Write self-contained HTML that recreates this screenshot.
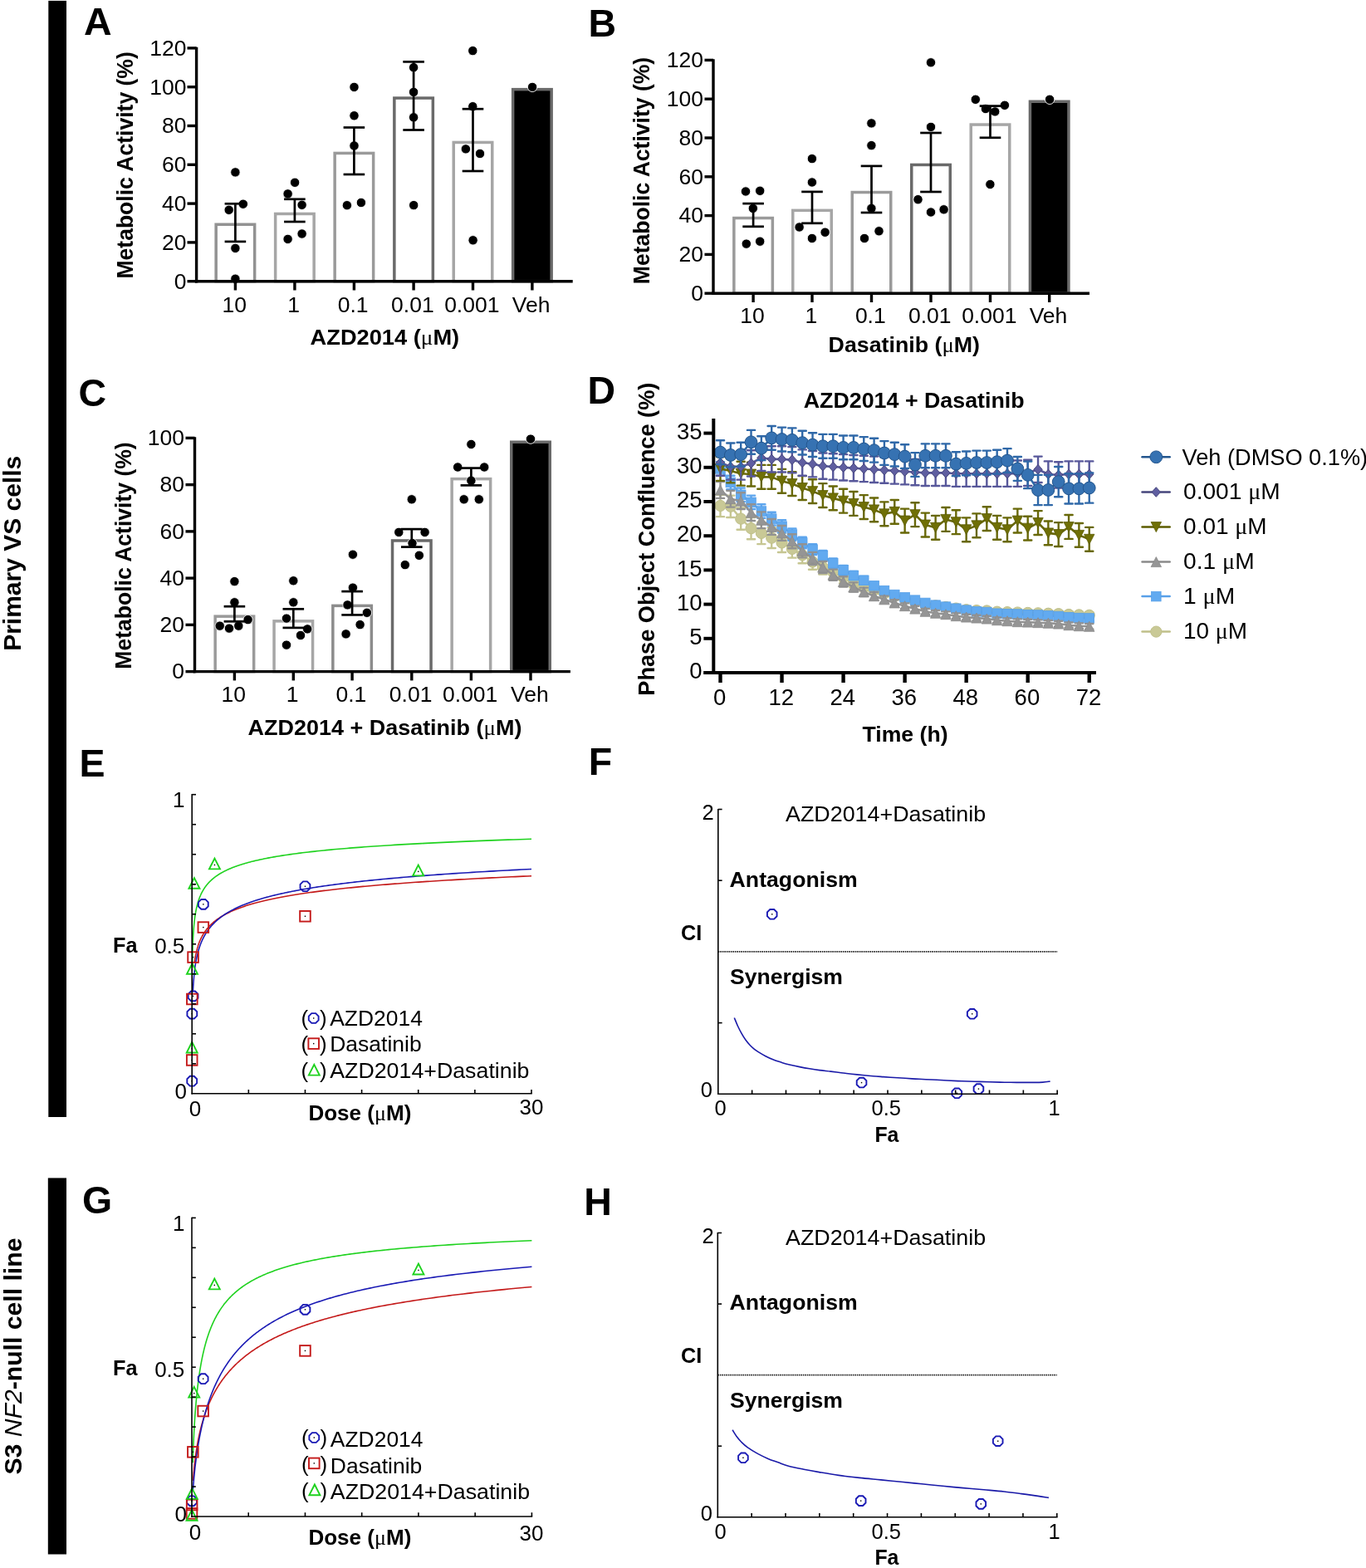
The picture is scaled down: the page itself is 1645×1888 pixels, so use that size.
<!DOCTYPE html>
<html><head><meta charset="utf-8"><title>Figure</title>
<style>html,body{margin:0;padding:0;background:#fff;}svg{display:block;}</style>
</head><body>
<svg width="1645" height="1888" viewBox="0 0 1645 1888" font-family="'Liberation Sans', Arial, Helvetica, sans-serif">
<rect x="0" y="0" width="1645" height="1888" fill="#fff"/>
<rect x="58.3" y="0.9" width="21.7" height="1344.1" fill="#000"/>
<rect x="57.8" y="1418.4" width="22.2" height="453.1" fill="#000"/>
<text transform="translate(25 666.3) rotate(-90)" text-anchor="middle" font-size="30" font-weight="bold" textLength="235" lengthAdjust="spacingAndGlyphs">Primary VS cells</text>
<text transform="translate(26.3 1633.1) rotate(-90)" text-anchor="middle" font-size="30" font-weight="bold" textLength="285" lengthAdjust="spacingAndGlyphs">S3 <tspan font-style="italic" font-weight="normal">NF2</tspan>-null cell line</text>
<text x="101" y="41.9" font-size="46.5" font-weight="bold">A</text>
<text x="708.6" y="43.8" font-size="46.5" font-weight="bold">B</text>
<text x="94.5" y="489.2" font-size="46.5" font-weight="bold">C</text>
<text x="707.6" y="485.9" font-size="46.5" font-weight="bold">D</text>
<text x="95.5" y="934.6" font-size="46.5" font-weight="bold">E</text>
<text x="708.7" y="932.7" font-size="46.5" font-weight="bold">F</text>
<text x="99" y="1461.2" font-size="46.5" font-weight="bold">G</text>
<text x="703.2" y="1462.5" font-size="46.5" font-weight="bold">H</text>
<rect x="260.15" y="270.25" width="46.5" height="68.45" fill="#fff" stroke="#929292" stroke-width="3.5"/>
<rect x="331.65" y="257.45" width="46.5" height="81.25" fill="#fff" stroke="#a6a6a6" stroke-width="3.5"/>
<rect x="403.15" y="184.45" width="46.5" height="154.25" fill="#fff" stroke="#9a9a9a" stroke-width="3.5"/>
<rect x="474.85" y="118.05" width="46.5" height="220.65" fill="#fff" stroke="#6a6a6a" stroke-width="3.5"/>
<rect x="546.25" y="171.45" width="46.5" height="167.25" fill="#fff" stroke="#a6a6a6" stroke-width="3.5"/>
<rect x="617.65" y="107.65" width="46.5" height="231.05" fill="#000" stroke="#6a6a6a" stroke-width="3.5"/>
<circle cx="283.4" cy="207.4" r="5.7" fill="#000" stroke="#fff" stroke-width="0.9"/>
<circle cx="292.8" cy="245.7" r="5.7" fill="#000" stroke="#fff" stroke-width="0.9"/>
<circle cx="275.7" cy="252.8" r="5.7" fill="#000" stroke="#fff" stroke-width="0.9"/>
<circle cx="283.4" cy="298.9" r="5.7" fill="#000" stroke="#fff" stroke-width="0.9"/>
<circle cx="283.4" cy="335.7" r="5.7" fill="#000" stroke="#fff" stroke-width="0.9"/>
<circle cx="355.1" cy="219.8" r="5.7" fill="#000" stroke="#fff" stroke-width="0.9"/>
<circle cx="346.6" cy="233.4" r="5.7" fill="#000" stroke="#fff" stroke-width="0.9"/>
<circle cx="363.6" cy="246.8" r="5.7" fill="#000" stroke="#fff" stroke-width="0.9"/>
<circle cx="363.6" cy="281.5" r="5.7" fill="#000" stroke="#fff" stroke-width="0.9"/>
<circle cx="346.6" cy="287.9" r="5.7" fill="#000" stroke="#fff" stroke-width="0.9"/>
<circle cx="426.5" cy="104.9" r="5.7" fill="#000" stroke="#fff" stroke-width="0.9"/>
<circle cx="426.5" cy="139.3" r="5.7" fill="#000" stroke="#fff" stroke-width="0.9"/>
<circle cx="426.5" cy="175.5" r="5.7" fill="#000" stroke="#fff" stroke-width="0.9"/>
<circle cx="417.9" cy="247.2" r="5.7" fill="#000" stroke="#fff" stroke-width="0.9"/>
<circle cx="434.9" cy="244" r="5.7" fill="#000" stroke="#fff" stroke-width="0.9"/>
<circle cx="498.1" cy="81.2" r="5.7" fill="#000" stroke="#fff" stroke-width="0.9"/>
<circle cx="498.1" cy="110.9" r="5.7" fill="#000" stroke="#fff" stroke-width="0.9"/>
<circle cx="498.1" cy="141.3" r="5.7" fill="#000" stroke="#fff" stroke-width="0.9"/>
<circle cx="498.2" cy="247.1" r="5.7" fill="#000" stroke="#fff" stroke-width="0.9"/>
<circle cx="569.3" cy="61.1" r="5.7" fill="#000" stroke="#fff" stroke-width="0.9"/>
<circle cx="569.3" cy="128.2" r="5.7" fill="#000" stroke="#fff" stroke-width="0.9"/>
<circle cx="560.9" cy="179.4" r="5.7" fill="#000" stroke="#fff" stroke-width="0.9"/>
<circle cx="578" cy="185" r="5.7" fill="#000" stroke="#fff" stroke-width="0.9"/>
<circle cx="569.6" cy="289.3" r="5.7" fill="#000" stroke="#fff" stroke-width="0.9"/>
<circle cx="641.1" cy="104.9" r="5.7" fill="#000" stroke="#fff" stroke-width="0.9"/>
<line x1="283.4" y1="245.3" x2="283.4" y2="290.9" stroke="#000" stroke-width="2.7"/>
<line x1="270.6" y1="245.3" x2="296.2" y2="245.3" stroke="#000" stroke-width="2.7"/>
<line x1="270.6" y1="290.9" x2="296.2" y2="290.9" stroke="#000" stroke-width="2.7"/>
<line x1="354.9" y1="239.8" x2="354.9" y2="267" stroke="#000" stroke-width="2.7"/>
<line x1="342.1" y1="239.8" x2="367.7" y2="239.8" stroke="#000" stroke-width="2.7"/>
<line x1="342.1" y1="267" x2="367.7" y2="267" stroke="#000" stroke-width="2.7"/>
<line x1="426.4" y1="153.5" x2="426.4" y2="210" stroke="#000" stroke-width="2.7"/>
<line x1="413.6" y1="153.5" x2="439.2" y2="153.5" stroke="#000" stroke-width="2.7"/>
<line x1="413.6" y1="210" x2="439.2" y2="210" stroke="#000" stroke-width="2.7"/>
<line x1="498.1" y1="74.4" x2="498.1" y2="156.5" stroke="#000" stroke-width="2.7"/>
<line x1="485.3" y1="74.4" x2="510.9" y2="74.4" stroke="#000" stroke-width="2.7"/>
<line x1="485.3" y1="156.5" x2="510.9" y2="156.5" stroke="#000" stroke-width="2.7"/>
<line x1="569.5" y1="131.2" x2="569.5" y2="206" stroke="#000" stroke-width="2.7"/>
<line x1="556.7" y1="131.2" x2="582.3" y2="131.2" stroke="#000" stroke-width="2.7"/>
<line x1="556.7" y1="206" x2="582.3" y2="206" stroke="#000" stroke-width="2.7"/>
<line x1="236.6" y1="340.4" x2="236.6" y2="56.7" stroke="#000" stroke-width="3.4" stroke-linecap="butt"/>
<line x1="234.9" y1="338.7" x2="689.7" y2="338.7" stroke="#000" stroke-width="3.4"/>
<line x1="225.5" y1="338.7" x2="236.6" y2="338.7" stroke="#000" stroke-width="3.4"/>
<text x="224.5" y="347.5" font-size="26.5" text-anchor="end">0</text>
<line x1="225.5" y1="291.9" x2="236.6" y2="291.9" stroke="#000" stroke-width="3.4"/>
<text x="224.5" y="300.7" font-size="26.5" text-anchor="end">20</text>
<line x1="225.5" y1="245.1" x2="236.6" y2="245.1" stroke="#000" stroke-width="3.4"/>
<text x="224.5" y="253.9" font-size="26.5" text-anchor="end">40</text>
<line x1="225.5" y1="198.3" x2="236.6" y2="198.3" stroke="#000" stroke-width="3.4"/>
<text x="224.5" y="207.1" font-size="26.5" text-anchor="end">60</text>
<line x1="225.5" y1="151.5" x2="236.6" y2="151.5" stroke="#000" stroke-width="3.4"/>
<text x="224.5" y="160.3" font-size="26.5" text-anchor="end">80</text>
<line x1="225.5" y1="104.7" x2="236.6" y2="104.7" stroke="#000" stroke-width="3.4"/>
<text x="224.5" y="113.5" font-size="26.5" text-anchor="end">100</text>
<line x1="225.5" y1="57.9" x2="236.6" y2="57.9" stroke="#000" stroke-width="3.4"/>
<text x="224.5" y="66.7" font-size="26.5" text-anchor="end">120</text>
<line x1="283.4" y1="338.7" x2="283.4" y2="349.5" stroke="#000" stroke-width="3.4"/>
<text x="282.2" y="375.5" font-size="26.5" text-anchor="middle">10</text>
<line x1="354.9" y1="338.7" x2="354.9" y2="349.5" stroke="#000" stroke-width="3.4"/>
<text x="353.7" y="375.5" font-size="26.5" text-anchor="middle">1</text>
<line x1="426.4" y1="338.7" x2="426.4" y2="349.5" stroke="#000" stroke-width="3.4"/>
<text x="425.2" y="375.5" font-size="26.5" text-anchor="middle">0.1</text>
<line x1="498.1" y1="338.7" x2="498.1" y2="349.5" stroke="#000" stroke-width="3.4"/>
<text x="496.9" y="375.5" font-size="26.5" text-anchor="middle">0.01</text>
<line x1="569.5" y1="338.7" x2="569.5" y2="349.5" stroke="#000" stroke-width="3.4"/>
<text x="568.3" y="375.5" font-size="26.5" text-anchor="middle">0.001</text>
<line x1="640.9" y1="338.7" x2="640.9" y2="349.5" stroke="#000" stroke-width="3.4"/>
<text x="639.7" y="375.5" font-size="26.5" text-anchor="middle">Veh</text>
<text x="463.4" y="414.5" font-size="26" text-anchor="middle" font-weight="bold" textLength="179.6" lengthAdjust="spacingAndGlyphs">AZD2014 (<tspan font-weight="normal" font-family="'Liberation Serif', serif">μ</tspan>M)</text>
<text transform="translate(159.7 198.9) rotate(-90)" text-anchor="middle" font-size="27" font-weight="bold" textLength="273.4" lengthAdjust="spacingAndGlyphs">Metabolic Activity (%)</text>
<rect x="883.85" y="262.55" width="46.5" height="90.65" fill="#fff" stroke="#9a9a9a" stroke-width="3.5"/>
<rect x="954.75" y="253.35" width="46.5" height="99.85" fill="#fff" stroke="#a6a6a6" stroke-width="3.5"/>
<rect x="1026.25" y="231.55" width="46.5" height="121.65" fill="#fff" stroke="#9a9a9a" stroke-width="3.5"/>
<rect x="1097.75" y="198.45" width="46.5" height="154.75" fill="#fff" stroke="#6a6a6a" stroke-width="3.5"/>
<rect x="1169.25" y="150.05" width="46.5" height="203.15" fill="#fff" stroke="#a6a6a6" stroke-width="3.5"/>
<rect x="1240.45" y="122.25" width="46.5" height="230.95" fill="#000" stroke="#6a6a6a" stroke-width="3.5"/>
<circle cx="898" cy="230.5" r="5.7" fill="#000" stroke="#fff" stroke-width="0.9"/>
<circle cx="915.2" cy="229.8" r="5.7" fill="#000" stroke="#fff" stroke-width="0.9"/>
<circle cx="906.8" cy="250.9" r="5.7" fill="#000" stroke="#fff" stroke-width="0.9"/>
<circle cx="898.8" cy="293.6" r="5.7" fill="#000" stroke="#fff" stroke-width="0.9"/>
<circle cx="915.2" cy="290.7" r="5.7" fill="#000" stroke="#fff" stroke-width="0.9"/>
<circle cx="977.9" cy="191.1" r="5.7" fill="#000" stroke="#fff" stroke-width="0.9"/>
<circle cx="977.9" cy="219.5" r="5.7" fill="#000" stroke="#fff" stroke-width="0.9"/>
<circle cx="962.6" cy="273.5" r="5.7" fill="#000" stroke="#fff" stroke-width="0.9"/>
<circle cx="977.9" cy="287" r="5.7" fill="#000" stroke="#fff" stroke-width="0.9"/>
<circle cx="993.6" cy="279.7" r="5.7" fill="#000" stroke="#fff" stroke-width="0.9"/>
<circle cx="1049.4" cy="148.4" r="5.7" fill="#000" stroke="#fff" stroke-width="0.9"/>
<circle cx="1049.4" cy="175.1" r="5.7" fill="#000" stroke="#fff" stroke-width="0.9"/>
<circle cx="1049.4" cy="250.9" r="5.7" fill="#000" stroke="#fff" stroke-width="0.9"/>
<circle cx="1041" cy="287" r="5.7" fill="#000" stroke="#fff" stroke-width="0.9"/>
<circle cx="1058.5" cy="278.3" r="5.7" fill="#000" stroke="#fff" stroke-width="0.9"/>
<circle cx="1121" cy="75.3" r="5.7" fill="#000" stroke="#fff" stroke-width="0.9"/>
<circle cx="1121" cy="152.9" r="5.7" fill="#000" stroke="#fff" stroke-width="0.9"/>
<circle cx="1105.5" cy="240.2" r="5.7" fill="#000" stroke="#fff" stroke-width="0.9"/>
<circle cx="1121" cy="255.5" r="5.7" fill="#000" stroke="#fff" stroke-width="0.9"/>
<circle cx="1136.6" cy="252.3" r="5.7" fill="#000" stroke="#fff" stroke-width="0.9"/>
<circle cx="1174.8" cy="119.8" r="5.7" fill="#000" stroke="#fff" stroke-width="0.9"/>
<circle cx="1186.9" cy="131" r="5.7" fill="#000" stroke="#fff" stroke-width="0.9"/>
<circle cx="1198.2" cy="134.4" r="5.7" fill="#000" stroke="#fff" stroke-width="0.9"/>
<circle cx="1209.9" cy="126.8" r="5.7" fill="#000" stroke="#fff" stroke-width="0.9"/>
<circle cx="1192.4" cy="222" r="5.7" fill="#000" stroke="#fff" stroke-width="0.9"/>
<circle cx="1264.1" cy="119.8" r="5.7" fill="#000" stroke="#fff" stroke-width="0.9"/>
<line x1="907.1" y1="245.1" x2="907.1" y2="272.8" stroke="#000" stroke-width="2.7"/>
<line x1="894.3" y1="245.1" x2="919.9" y2="245.1" stroke="#000" stroke-width="2.7"/>
<line x1="894.3" y1="272.8" x2="919.9" y2="272.8" stroke="#000" stroke-width="2.7"/>
<line x1="978" y1="230.9" x2="978" y2="268.8" stroke="#000" stroke-width="2.7"/>
<line x1="965.2" y1="230.9" x2="990.8" y2="230.9" stroke="#000" stroke-width="2.7"/>
<line x1="965.2" y1="268.8" x2="990.8" y2="268.8" stroke="#000" stroke-width="2.7"/>
<line x1="1049.5" y1="199.9" x2="1049.5" y2="256" stroke="#000" stroke-width="2.7"/>
<line x1="1036.7" y1="199.9" x2="1062.3" y2="199.9" stroke="#000" stroke-width="2.7"/>
<line x1="1036.7" y1="256" x2="1062.3" y2="256" stroke="#000" stroke-width="2.7"/>
<line x1="1121" y1="160" x2="1121" y2="231" stroke="#000" stroke-width="2.7"/>
<line x1="1108.2" y1="160" x2="1133.8" y2="160" stroke="#000" stroke-width="2.7"/>
<line x1="1108.2" y1="231" x2="1133.8" y2="231" stroke="#000" stroke-width="2.7"/>
<line x1="1192.5" y1="127.6" x2="1192.5" y2="165.8" stroke="#000" stroke-width="2.7"/>
<line x1="1179.7" y1="127.6" x2="1205.3" y2="127.6" stroke="#000" stroke-width="2.7"/>
<line x1="1179.7" y1="165.8" x2="1205.3" y2="165.8" stroke="#000" stroke-width="2.7"/>
<line x1="859" y1="354.9" x2="859" y2="71.2" stroke="#000" stroke-width="3.4" stroke-linecap="butt"/>
<line x1="857.3" y1="353.2" x2="1312" y2="353.2" stroke="#000" stroke-width="3.4"/>
<line x1="848.5" y1="353.2" x2="859" y2="353.2" stroke="#000" stroke-width="3.4"/>
<text x="847" y="362" font-size="26.5" text-anchor="end">0</text>
<line x1="848.5" y1="306.4" x2="859" y2="306.4" stroke="#000" stroke-width="3.4"/>
<text x="847" y="315.2" font-size="26.5" text-anchor="end">20</text>
<line x1="848.5" y1="259.6" x2="859" y2="259.6" stroke="#000" stroke-width="3.4"/>
<text x="847" y="268.4" font-size="26.5" text-anchor="end">40</text>
<line x1="848.5" y1="212.8" x2="859" y2="212.8" stroke="#000" stroke-width="3.4"/>
<text x="847" y="221.6" font-size="26.5" text-anchor="end">60</text>
<line x1="848.5" y1="166" x2="859" y2="166" stroke="#000" stroke-width="3.4"/>
<text x="847" y="174.8" font-size="26.5" text-anchor="end">80</text>
<line x1="848.5" y1="119.2" x2="859" y2="119.2" stroke="#000" stroke-width="3.4"/>
<text x="847" y="128" font-size="26.5" text-anchor="end">100</text>
<line x1="848.5" y1="72.4" x2="859" y2="72.4" stroke="#000" stroke-width="3.4"/>
<text x="847" y="81.2" font-size="26.5" text-anchor="end">120</text>
<line x1="907.1" y1="353.2" x2="907.1" y2="364" stroke="#000" stroke-width="3.4"/>
<text x="905.9" y="389.4" font-size="26.5" text-anchor="middle">10</text>
<line x1="978" y1="353.2" x2="978" y2="364" stroke="#000" stroke-width="3.4"/>
<text x="976.8" y="389.4" font-size="26.5" text-anchor="middle">1</text>
<line x1="1049.5" y1="353.2" x2="1049.5" y2="364" stroke="#000" stroke-width="3.4"/>
<text x="1048.3" y="389.4" font-size="26.5" text-anchor="middle">0.1</text>
<line x1="1121" y1="353.2" x2="1121" y2="364" stroke="#000" stroke-width="3.4"/>
<text x="1119.8" y="389.4" font-size="26.5" text-anchor="middle">0.01</text>
<line x1="1192.5" y1="353.2" x2="1192.5" y2="364" stroke="#000" stroke-width="3.4"/>
<text x="1191.3" y="389.4" font-size="26.5" text-anchor="middle">0.001</text>
<line x1="1263.7" y1="353.2" x2="1263.7" y2="364" stroke="#000" stroke-width="3.4"/>
<text x="1262.5" y="389.4" font-size="26.5" text-anchor="middle">Veh</text>
<text x="1088.8" y="424.4" font-size="26" text-anchor="middle" font-weight="bold" textLength="182.4" lengthAdjust="spacingAndGlyphs">Dasatinib (<tspan font-weight="normal" font-family="'Liberation Serif', serif">μ</tspan>M)</text>
<text transform="translate(782.4 205.5) rotate(-90)" text-anchor="middle" font-size="27" font-weight="bold" textLength="273.4" lengthAdjust="spacingAndGlyphs">Metabolic Activity (%)</text>
<rect x="259.15" y="742.15" width="46.5" height="66.45" fill="#fff" stroke="#9a9a9a" stroke-width="3.5"/>
<rect x="330.05" y="747.85" width="46.5" height="60.75" fill="#fff" stroke="#a6a6a6" stroke-width="3.5"/>
<rect x="400.85" y="729.35" width="46.5" height="79.25" fill="#fff" stroke="#8c8c8c" stroke-width="3.5"/>
<rect x="472.55" y="650.95" width="46.5" height="157.65" fill="#fff" stroke="#6a6a6a" stroke-width="3.5"/>
<rect x="544.15" y="576.65" width="46.5" height="231.95" fill="#fff" stroke="#a6a6a6" stroke-width="3.5"/>
<rect x="615.75" y="532.25" width="46.5" height="276.35" fill="#000" stroke="#6a6a6a" stroke-width="3.5"/>
<circle cx="282.4" cy="700.1" r="5.7" fill="#000" stroke="#fff" stroke-width="0.9"/>
<circle cx="282.4" cy="725.3" r="5.7" fill="#000" stroke="#fff" stroke-width="0.9"/>
<circle cx="264.7" cy="753.6" r="5.7" fill="#000" stroke="#fff" stroke-width="0.9"/>
<circle cx="276" cy="756.6" r="5.7" fill="#000" stroke="#fff" stroke-width="0.9"/>
<circle cx="287.3" cy="753.6" r="5.7" fill="#000" stroke="#fff" stroke-width="0.9"/>
<circle cx="298.6" cy="746.1" r="5.7" fill="#000" stroke="#fff" stroke-width="0.9"/>
<circle cx="353.3" cy="699.3" r="5.7" fill="#000" stroke="#fff" stroke-width="0.9"/>
<circle cx="353.3" cy="725.3" r="5.7" fill="#000" stroke="#fff" stroke-width="0.9"/>
<circle cx="345" cy="744.6" r="5.7" fill="#000" stroke="#fff" stroke-width="0.9"/>
<circle cx="370.2" cy="757.4" r="5.7" fill="#000" stroke="#fff" stroke-width="0.9"/>
<circle cx="362" cy="765" r="5.7" fill="#000" stroke="#fff" stroke-width="0.9"/>
<circle cx="345" cy="776.6" r="5.7" fill="#000" stroke="#fff" stroke-width="0.9"/>
<circle cx="424.9" cy="667.7" r="5.7" fill="#000" stroke="#fff" stroke-width="0.9"/>
<circle cx="424.9" cy="707.6" r="5.7" fill="#000" stroke="#fff" stroke-width="0.9"/>
<circle cx="418.5" cy="728.4" r="5.7" fill="#000" stroke="#fff" stroke-width="0.9"/>
<circle cx="441.9" cy="737.8" r="5.7" fill="#000" stroke="#fff" stroke-width="0.9"/>
<circle cx="433.6" cy="752.1" r="5.7" fill="#000" stroke="#fff" stroke-width="0.9"/>
<circle cx="416.6" cy="763.4" r="5.7" fill="#000" stroke="#fff" stroke-width="0.9"/>
<circle cx="495.8" cy="601.3" r="5.7" fill="#000" stroke="#fff" stroke-width="0.9"/>
<circle cx="480.3" cy="640.9" r="5.7" fill="#000" stroke="#fff" stroke-width="0.9"/>
<circle cx="511.6" cy="640.9" r="5.7" fill="#000" stroke="#fff" stroke-width="0.9"/>
<circle cx="496.5" cy="654.1" r="5.7" fill="#000" stroke="#fff" stroke-width="0.9"/>
<circle cx="504.8" cy="668.8" r="5.7" fill="#000" stroke="#fff" stroke-width="0.9"/>
<circle cx="487.8" cy="680.1" r="5.7" fill="#000" stroke="#fff" stroke-width="0.9"/>
<circle cx="567.4" cy="535" r="5.7" fill="#000" stroke="#fff" stroke-width="0.9"/>
<circle cx="551.2" cy="562.5" r="5.7" fill="#000" stroke="#fff" stroke-width="0.9"/>
<circle cx="583.2" cy="562.5" r="5.7" fill="#000" stroke="#fff" stroke-width="0.9"/>
<circle cx="567.4" cy="578.7" r="5.7" fill="#000" stroke="#fff" stroke-width="0.9"/>
<circle cx="558.7" cy="601.3" r="5.7" fill="#000" stroke="#fff" stroke-width="0.9"/>
<circle cx="576.8" cy="601.3" r="5.7" fill="#000" stroke="#fff" stroke-width="0.9"/>
<circle cx="639" cy="528.6" r="5.7" fill="#000" stroke="#fff" stroke-width="0.9"/>
<line x1="282.4" y1="730.2" x2="282.4" y2="748.3" stroke="#000" stroke-width="2.7"/>
<line x1="269.6" y1="730.2" x2="295.2" y2="730.2" stroke="#000" stroke-width="2.7"/>
<line x1="269.6" y1="748.3" x2="295.2" y2="748.3" stroke="#000" stroke-width="2.7"/>
<line x1="353.3" y1="733.3" x2="353.3" y2="755.9" stroke="#000" stroke-width="2.7"/>
<line x1="340.5" y1="733.3" x2="366.1" y2="733.3" stroke="#000" stroke-width="2.7"/>
<line x1="340.5" y1="755.9" x2="366.1" y2="755.9" stroke="#000" stroke-width="2.7"/>
<line x1="424.1" y1="712.1" x2="424.1" y2="740.4" stroke="#000" stroke-width="2.7"/>
<line x1="411.3" y1="712.1" x2="436.9" y2="712.1" stroke="#000" stroke-width="2.7"/>
<line x1="411.3" y1="740.4" x2="436.9" y2="740.4" stroke="#000" stroke-width="2.7"/>
<line x1="495.8" y1="637.1" x2="495.8" y2="658.6" stroke="#000" stroke-width="2.7"/>
<line x1="483" y1="637.1" x2="508.6" y2="637.1" stroke="#000" stroke-width="2.7"/>
<line x1="483" y1="658.6" x2="508.6" y2="658.6" stroke="#000" stroke-width="2.7"/>
<line x1="567.4" y1="563.6" x2="567.4" y2="584.4" stroke="#000" stroke-width="2.7"/>
<line x1="554.6" y1="563.6" x2="580.2" y2="563.6" stroke="#000" stroke-width="2.7"/>
<line x1="554.6" y1="584.4" x2="580.2" y2="584.4" stroke="#000" stroke-width="2.7"/>
<line x1="234.5" y1="810.3" x2="234.5" y2="526.2" stroke="#000" stroke-width="3.4" stroke-linecap="butt"/>
<line x1="232.8" y1="808.6" x2="686.9" y2="808.6" stroke="#000" stroke-width="3.4"/>
<line x1="223.5" y1="808.6" x2="234.5" y2="808.6" stroke="#000" stroke-width="3.4"/>
<text x="222" y="817.4" font-size="26.5" text-anchor="end">0</text>
<line x1="223.5" y1="752.36" x2="234.5" y2="752.36" stroke="#000" stroke-width="3.4"/>
<text x="222" y="761.16" font-size="26.5" text-anchor="end">20</text>
<line x1="223.5" y1="696.12" x2="234.5" y2="696.12" stroke="#000" stroke-width="3.4"/>
<text x="222" y="704.92" font-size="26.5" text-anchor="end">40</text>
<line x1="223.5" y1="639.88" x2="234.5" y2="639.88" stroke="#000" stroke-width="3.4"/>
<text x="222" y="648.68" font-size="26.5" text-anchor="end">60</text>
<line x1="223.5" y1="583.64" x2="234.5" y2="583.64" stroke="#000" stroke-width="3.4"/>
<text x="222" y="592.44" font-size="26.5" text-anchor="end">80</text>
<line x1="223.5" y1="527.4" x2="234.5" y2="527.4" stroke="#000" stroke-width="3.4"/>
<text x="222" y="536.2" font-size="26.5" text-anchor="end">100</text>
<line x1="282.4" y1="808.6" x2="282.4" y2="819.4" stroke="#000" stroke-width="3.4"/>
<text x="281.2" y="845.2" font-size="26.5" text-anchor="middle">10</text>
<line x1="353.3" y1="808.6" x2="353.3" y2="819.4" stroke="#000" stroke-width="3.4"/>
<text x="352.1" y="845.2" font-size="26.5" text-anchor="middle">1</text>
<line x1="424.1" y1="808.6" x2="424.1" y2="819.4" stroke="#000" stroke-width="3.4"/>
<text x="422.9" y="845.2" font-size="26.5" text-anchor="middle">0.1</text>
<line x1="495.8" y1="808.6" x2="495.8" y2="819.4" stroke="#000" stroke-width="3.4"/>
<text x="494.6" y="845.2" font-size="26.5" text-anchor="middle">0.01</text>
<line x1="567.4" y1="808.6" x2="567.4" y2="819.4" stroke="#000" stroke-width="3.4"/>
<text x="566.2" y="845.2" font-size="26.5" text-anchor="middle">0.001</text>
<line x1="639" y1="808.6" x2="639" y2="819.4" stroke="#000" stroke-width="3.4"/>
<text x="637.8" y="845.2" font-size="26.5" text-anchor="middle">Veh</text>
<text x="463.5" y="884.8" font-size="26" text-anchor="middle" font-weight="bold" textLength="329.8" lengthAdjust="spacingAndGlyphs">AZD2014 + Dasatinib (<tspan font-weight="normal" font-family="'Liberation Serif', serif">μ</tspan>M)</text>
<text transform="translate(157.6 669) rotate(-90)" text-anchor="middle" font-size="27" font-weight="bold" textLength="273.4" lengthAdjust="spacingAndGlyphs">Metabolic Activity (%)</text>
<path d="M867.5 595.76V622.13 M862.9 595.76H872.1 M862.9 622.13H872.1 M879.84 596.58V622.95 M875.24 596.58H884.44 M875.24 622.95H884.44 M892.18 611.42V637.78 M887.58 611.42H896.78 M887.58 637.78H896.78 M904.52 622.95V649.32 M899.92 622.95H909.12 M899.92 649.32H909.12 M916.86 628.72V655.09 M912.26 628.72H921.46 M912.26 655.09H921.46 M929.2 635.28V660.07 M924.6 635.28H933.8 M924.6 660.07H933.8 M941.54 641.84V665.04 M936.94 641.84H946.14 M936.94 665.04H946.14 M953.88 650.04V671.67 M949.28 650.04H958.48 M949.28 671.67H958.48 M966.22 658.25V678.3 M961.62 658.25H970.82 M961.62 678.3H970.82 M978.56 667.28V685.75 M973.96 667.28H983.16 M973.96 685.75H983.16 M990.9 674.66V691.55 M986.3 674.66H995.5 M986.3 691.55H995.5 M1003.24 681.22V696.53 M998.64 681.22H1007.84 M998.64 696.53H1007.84 M1015.58 688.6V702.33 M1010.98 688.6H1020.18 M1010.98 702.33H1020.18 M1027.92 695.15V707.31 M1023.32 695.15H1032.52 M1023.32 707.31H1032.52 M1040.26 700.89V711.46 M1035.66 700.89H1044.86 M1035.66 711.46H1044.86 M1052.6 705.8V714.79 M1048 705.8H1057.2 M1048 714.79H1057.2 M1064.94 710.71V718.12 M1060.34 710.71H1069.54 M1060.34 718.12H1069.54 M1077.28 714V721.42 M1072.68 714H1081.88 M1072.68 721.42H1081.88 M1089.62 717.3V724.72 M1085.02 717.3H1094.22 M1085.02 724.72H1094.22 M1101.96 720.6V728.01 M1097.36 720.6H1106.56 M1097.36 728.01H1106.56 M1114.3 723.89V731.31 M1109.7 723.89H1118.9 M1109.7 731.31H1118.9 M1126.64 725.54V732.96 M1122.04 725.54H1131.24 M1122.04 732.96H1131.24 M1138.98 727.19V734.6 M1134.38 727.19H1143.58 M1134.38 734.6H1143.58 M1151.32 728.84V736.25 M1146.72 728.84H1155.92 M1146.72 736.25H1155.92 M1163.66 730.48V737.9 M1159.06 730.48H1168.26 M1159.06 737.9H1168.26 M1176 731.31V738.72 M1171.4 731.31H1180.6 M1171.4 738.72H1180.6 M1188.34 731.72V739.14 M1183.74 731.72H1192.94 M1183.74 739.14H1192.94 M1200.68 732.96V740.37 M1196.08 732.96H1205.28 M1196.08 740.37H1205.28 M1213.02 733.37V740.78 M1208.42 733.37H1217.62 M1208.42 740.78H1217.62 M1225.36 733.78V741.2 M1220.76 733.78H1229.96 M1220.76 741.2H1229.96 M1237.7 734.19V741.61 M1233.1 734.19H1242.3 M1233.1 741.61H1242.3 M1250.04 734.6V742.02 M1245.44 734.6H1254.64 M1245.44 742.02H1254.64 M1262.38 735.02V742.43 M1257.78 735.02H1266.98 M1257.78 742.43H1266.98 M1274.72 735.43V742.84 M1270.12 735.43H1279.32 M1270.12 742.84H1279.32 M1287.06 736.25V743.67 M1282.46 736.25H1291.66 M1282.46 743.67H1291.66 M1299.4 736.66V744.08 M1294.8 736.66H1304 M1294.8 744.08H1304 M1311.74 737.08V744.49 M1307.14 737.08H1316.34 M1307.14 744.49H1316.34 " fill="none" stroke="#c6c692" stroke-width="2.4" stroke-linecap="round"/>
<path d="M867.5 608.94 L879.84 609.77 L892.18 624.6 L904.52 636.14 L916.86 641.9 L929.2 647.67 L941.54 653.44 L953.88 660.86 L966.22 668.27 L978.56 676.51 L990.9 683.1 L1003.24 688.87 L1015.58 695.46 L1027.92 701.23 L1040.26 706.18 L1052.6 710.3 L1064.94 714.42 L1077.28 717.71 L1089.62 721.01 L1101.96 724.3 L1114.3 727.6 L1126.64 729.25 L1138.98 730.9 L1151.32 732.54 L1163.66 734.19 L1176 735.02 L1188.34 735.43 L1200.68 736.66 L1213.02 737.08 L1225.36 737.49 L1237.7 737.9 L1250.04 738.31 L1262.38 738.72 L1274.72 739.14 L1287.06 739.96 L1299.4 740.37 L1311.74 740.78" fill="none" stroke="#c6c692" stroke-width="2.6" stroke-linejoin="round"/>
<circle cx="867.5" cy="608.94" r="6.6" fill="#c9c996" stroke="#c0c08a" stroke-width="1"/>
<circle cx="879.84" cy="609.77" r="6.6" fill="#c9c996" stroke="#c0c08a" stroke-width="1"/>
<circle cx="892.18" cy="624.6" r="6.6" fill="#c9c996" stroke="#c0c08a" stroke-width="1"/>
<circle cx="904.52" cy="636.14" r="6.6" fill="#c9c996" stroke="#c0c08a" stroke-width="1"/>
<circle cx="916.86" cy="641.9" r="6.6" fill="#c9c996" stroke="#c0c08a" stroke-width="1"/>
<circle cx="929.2" cy="647.67" r="6.6" fill="#c9c996" stroke="#c0c08a" stroke-width="1"/>
<circle cx="941.54" cy="653.44" r="6.6" fill="#c9c996" stroke="#c0c08a" stroke-width="1"/>
<circle cx="953.88" cy="660.86" r="6.6" fill="#c9c996" stroke="#c0c08a" stroke-width="1"/>
<circle cx="966.22" cy="668.27" r="6.6" fill="#c9c996" stroke="#c0c08a" stroke-width="1"/>
<circle cx="978.56" cy="676.51" r="6.6" fill="#c9c996" stroke="#c0c08a" stroke-width="1"/>
<circle cx="990.9" cy="683.1" r="6.6" fill="#c9c996" stroke="#c0c08a" stroke-width="1"/>
<circle cx="1003.24" cy="688.87" r="6.6" fill="#c9c996" stroke="#c0c08a" stroke-width="1"/>
<circle cx="1015.58" cy="695.46" r="6.6" fill="#c9c996" stroke="#c0c08a" stroke-width="1"/>
<circle cx="1027.92" cy="701.23" r="6.6" fill="#c9c996" stroke="#c0c08a" stroke-width="1"/>
<circle cx="1040.26" cy="706.18" r="6.6" fill="#c9c996" stroke="#c0c08a" stroke-width="1"/>
<circle cx="1052.6" cy="710.3" r="6.6" fill="#c9c996" stroke="#c0c08a" stroke-width="1"/>
<circle cx="1064.94" cy="714.42" r="6.6" fill="#c9c996" stroke="#c0c08a" stroke-width="1"/>
<circle cx="1077.28" cy="717.71" r="6.6" fill="#c9c996" stroke="#c0c08a" stroke-width="1"/>
<circle cx="1089.62" cy="721.01" r="6.6" fill="#c9c996" stroke="#c0c08a" stroke-width="1"/>
<circle cx="1101.96" cy="724.3" r="6.6" fill="#c9c996" stroke="#c0c08a" stroke-width="1"/>
<circle cx="1114.3" cy="727.6" r="6.6" fill="#c9c996" stroke="#c0c08a" stroke-width="1"/>
<circle cx="1126.64" cy="729.25" r="6.6" fill="#c9c996" stroke="#c0c08a" stroke-width="1"/>
<circle cx="1138.98" cy="730.9" r="6.6" fill="#c9c996" stroke="#c0c08a" stroke-width="1"/>
<circle cx="1151.32" cy="732.54" r="6.6" fill="#c9c996" stroke="#c0c08a" stroke-width="1"/>
<circle cx="1163.66" cy="734.19" r="6.6" fill="#c9c996" stroke="#c0c08a" stroke-width="1"/>
<circle cx="1176" cy="735.02" r="6.6" fill="#c9c996" stroke="#c0c08a" stroke-width="1"/>
<circle cx="1188.34" cy="735.43" r="6.6" fill="#c9c996" stroke="#c0c08a" stroke-width="1"/>
<circle cx="1200.68" cy="736.66" r="6.6" fill="#c9c996" stroke="#c0c08a" stroke-width="1"/>
<circle cx="1213.02" cy="737.08" r="6.6" fill="#c9c996" stroke="#c0c08a" stroke-width="1"/>
<circle cx="1225.36" cy="737.49" r="6.6" fill="#c9c996" stroke="#c0c08a" stroke-width="1"/>
<circle cx="1237.7" cy="737.9" r="6.6" fill="#c9c996" stroke="#c0c08a" stroke-width="1"/>
<circle cx="1250.04" cy="738.31" r="6.6" fill="#c9c996" stroke="#c0c08a" stroke-width="1"/>
<circle cx="1262.38" cy="738.72" r="6.6" fill="#c9c996" stroke="#c0c08a" stroke-width="1"/>
<circle cx="1274.72" cy="739.14" r="6.6" fill="#c9c996" stroke="#c0c08a" stroke-width="1"/>
<circle cx="1287.06" cy="739.96" r="6.6" fill="#c9c996" stroke="#c0c08a" stroke-width="1"/>
<circle cx="1299.4" cy="740.37" r="6.6" fill="#c9c996" stroke="#c0c08a" stroke-width="1"/>
<circle cx="1311.74" cy="740.78" r="6.6" fill="#c9c996" stroke="#c0c08a" stroke-width="1"/>
<path d="M867.5 556.21V572.69 M862.9 556.21H872.1 M862.9 572.69H872.1 M879.84 572.69V589.17 M875.24 572.69H884.44 M875.24 589.17H884.44 M892.18 587.52V604 M887.58 587.52H896.78 M887.58 604H896.78 M904.52 596.58V613.06 M899.92 596.58H909.12 M899.92 613.06H909.12 M916.86 607.3V623.78 M912.26 607.3H921.46 M912.26 623.78H921.46 M929.2 616.71V632.49 M924.6 616.71H933.8 M924.6 632.49H933.8 M941.54 626.13V641.2 M936.94 626.13H946.14 M936.94 641.2H946.14 M953.88 636.37V650.73 M949.28 636.37H958.48 M949.28 650.73H958.48 M966.22 646.61V660.27 M961.62 646.61H970.82 M961.62 660.27H970.82 M978.56 655.21V668.15 M973.96 655.21H983.16 M973.96 668.15H983.16 M990.9 662.97V675.22 M986.3 662.97H995.5 M986.3 675.22H995.5 M1003.24 672.39V683.93 M998.64 672.39H1007.84 M998.64 683.93H1007.84 M1015.58 680.99V691.81 M1010.98 680.99H1020.18 M1010.98 691.81H1020.18 M1027.92 687.93V698.05 M1023.32 687.93H1032.52 M1023.32 698.05H1032.52 M1040.26 694.05V703.47 M1035.66 694.05H1044.86 M1035.66 703.47H1044.86 M1052.6 701V709.71 M1048 701H1057.2 M1048 709.71H1057.2 M1064.94 707.12V715.12 M1060.34 707.12H1069.54 M1060.34 715.12H1069.54 M1077.28 712.41V719.71 M1072.68 712.41H1081.88 M1072.68 719.71H1081.88 M1089.62 716.06V722.66 M1085.02 716.06H1094.22 M1085.02 722.66H1094.22 M1101.96 719.36V725.95 M1097.36 719.36H1106.56 M1097.36 725.95H1106.56 M1114.3 722.66V729.25 M1109.7 722.66H1118.9 M1109.7 729.25H1118.9 M1126.64 725.38V731.97 M1122.04 725.38H1131.24 M1122.04 731.97H1131.24 M1138.98 727.35V733.94 M1134.38 727.35H1143.58 M1134.38 733.94H1143.58 M1151.32 729.41V736 M1146.72 729.41H1155.92 M1146.72 736H1155.92 M1163.66 731.39V737.98 M1159.06 731.39H1168.26 M1159.06 737.98H1168.26 M1176 733.04V739.63 M1171.4 733.04H1180.6 M1171.4 739.63H1180.6 M1188.34 733.78V740.37 M1183.74 733.78H1192.94 M1183.74 740.37H1192.94 M1200.68 735.43V742.02 M1196.08 735.43H1205.28 M1196.08 742.02H1205.28 M1213.02 735.84V742.43 M1208.42 735.84H1217.62 M1208.42 742.43H1217.62 M1225.36 736.25V742.84 M1220.76 736.25H1229.96 M1220.76 742.84H1229.96 M1237.7 736.83V743.42 M1233.1 736.83H1242.3 M1233.1 743.42H1242.3 M1250.04 737.24V743.83 M1245.44 737.24H1254.64 M1245.44 743.83H1254.64 M1262.38 738.06V744.66 M1257.78 738.06H1266.98 M1257.78 744.66H1266.98 M1274.72 738.72V745.32 M1270.12 738.72H1279.32 M1270.12 745.32H1279.32 M1287.06 739.96V746.55 M1282.46 739.96H1291.66 M1282.46 746.55H1291.66 M1299.4 740.78V747.38 M1294.8 740.78H1304 M1294.8 747.38H1304 M1311.74 741.2V747.79 M1307.14 741.2H1316.34 M1307.14 747.79H1316.34 " fill="none" stroke="#5ea6ee" stroke-width="2.4" stroke-linecap="round"/>
<path d="M867.5 564.45 L879.84 580.93 L892.18 595.76 L904.52 604.82 L916.86 615.54 L929.2 624.6 L941.54 633.66 L953.88 643.55 L966.22 653.44 L978.56 661.68 L990.9 669.1 L1003.24 678.16 L1015.58 686.4 L1027.92 692.99 L1040.26 698.76 L1052.6 705.35 L1064.94 711.12 L1077.28 716.06 L1089.62 719.36 L1101.96 722.66 L1114.3 725.95 L1126.64 728.67 L1138.98 730.65 L1151.32 732.71 L1163.66 734.69 L1176 736.33 L1188.34 737.08 L1200.68 738.72 L1213.02 739.14 L1225.36 739.55 L1237.7 740.12 L1250.04 740.54 L1262.38 741.36 L1274.72 742.02 L1287.06 743.26 L1299.4 744.08 L1311.74 744.49" fill="none" stroke="#5ea6ee" stroke-width="2.6" stroke-linejoin="round"/>
<rect x="861.7" y="558.65" width="11.6" height="11.6" fill="#62aaf0" stroke="#58a0e8" stroke-width="0.8"/>
<rect x="874.04" y="575.13" width="11.6" height="11.6" fill="#62aaf0" stroke="#58a0e8" stroke-width="0.8"/>
<rect x="886.38" y="589.96" width="11.6" height="11.6" fill="#62aaf0" stroke="#58a0e8" stroke-width="0.8"/>
<rect x="898.72" y="599.02" width="11.6" height="11.6" fill="#62aaf0" stroke="#58a0e8" stroke-width="0.8"/>
<rect x="911.06" y="609.74" width="11.6" height="11.6" fill="#62aaf0" stroke="#58a0e8" stroke-width="0.8"/>
<rect x="923.4" y="618.8" width="11.6" height="11.6" fill="#62aaf0" stroke="#58a0e8" stroke-width="0.8"/>
<rect x="935.74" y="627.86" width="11.6" height="11.6" fill="#62aaf0" stroke="#58a0e8" stroke-width="0.8"/>
<rect x="948.08" y="637.75" width="11.6" height="11.6" fill="#62aaf0" stroke="#58a0e8" stroke-width="0.8"/>
<rect x="960.42" y="647.64" width="11.6" height="11.6" fill="#62aaf0" stroke="#58a0e8" stroke-width="0.8"/>
<rect x="972.76" y="655.88" width="11.6" height="11.6" fill="#62aaf0" stroke="#58a0e8" stroke-width="0.8"/>
<rect x="985.1" y="663.3" width="11.6" height="11.6" fill="#62aaf0" stroke="#58a0e8" stroke-width="0.8"/>
<rect x="997.44" y="672.36" width="11.6" height="11.6" fill="#62aaf0" stroke="#58a0e8" stroke-width="0.8"/>
<rect x="1009.78" y="680.6" width="11.6" height="11.6" fill="#62aaf0" stroke="#58a0e8" stroke-width="0.8"/>
<rect x="1022.12" y="687.19" width="11.6" height="11.6" fill="#62aaf0" stroke="#58a0e8" stroke-width="0.8"/>
<rect x="1034.46" y="692.96" width="11.6" height="11.6" fill="#62aaf0" stroke="#58a0e8" stroke-width="0.8"/>
<rect x="1046.8" y="699.55" width="11.6" height="11.6" fill="#62aaf0" stroke="#58a0e8" stroke-width="0.8"/>
<rect x="1059.14" y="705.32" width="11.6" height="11.6" fill="#62aaf0" stroke="#58a0e8" stroke-width="0.8"/>
<rect x="1071.48" y="710.26" width="11.6" height="11.6" fill="#62aaf0" stroke="#58a0e8" stroke-width="0.8"/>
<rect x="1083.82" y="713.56" width="11.6" height="11.6" fill="#62aaf0" stroke="#58a0e8" stroke-width="0.8"/>
<rect x="1096.16" y="716.86" width="11.6" height="11.6" fill="#62aaf0" stroke="#58a0e8" stroke-width="0.8"/>
<rect x="1108.5" y="720.15" width="11.6" height="11.6" fill="#62aaf0" stroke="#58a0e8" stroke-width="0.8"/>
<rect x="1120.84" y="722.87" width="11.6" height="11.6" fill="#62aaf0" stroke="#58a0e8" stroke-width="0.8"/>
<rect x="1133.18" y="724.85" width="11.6" height="11.6" fill="#62aaf0" stroke="#58a0e8" stroke-width="0.8"/>
<rect x="1145.52" y="726.91" width="11.6" height="11.6" fill="#62aaf0" stroke="#58a0e8" stroke-width="0.8"/>
<rect x="1157.86" y="728.89" width="11.6" height="11.6" fill="#62aaf0" stroke="#58a0e8" stroke-width="0.8"/>
<rect x="1170.2" y="730.53" width="11.6" height="11.6" fill="#62aaf0" stroke="#58a0e8" stroke-width="0.8"/>
<rect x="1182.54" y="731.28" width="11.6" height="11.6" fill="#62aaf0" stroke="#58a0e8" stroke-width="0.8"/>
<rect x="1194.88" y="732.92" width="11.6" height="11.6" fill="#62aaf0" stroke="#58a0e8" stroke-width="0.8"/>
<rect x="1207.22" y="733.34" width="11.6" height="11.6" fill="#62aaf0" stroke="#58a0e8" stroke-width="0.8"/>
<rect x="1219.56" y="733.75" width="11.6" height="11.6" fill="#62aaf0" stroke="#58a0e8" stroke-width="0.8"/>
<rect x="1231.9" y="734.32" width="11.6" height="11.6" fill="#62aaf0" stroke="#58a0e8" stroke-width="0.8"/>
<rect x="1244.24" y="734.74" width="11.6" height="11.6" fill="#62aaf0" stroke="#58a0e8" stroke-width="0.8"/>
<rect x="1256.58" y="735.56" width="11.6" height="11.6" fill="#62aaf0" stroke="#58a0e8" stroke-width="0.8"/>
<rect x="1268.92" y="736.22" width="11.6" height="11.6" fill="#62aaf0" stroke="#58a0e8" stroke-width="0.8"/>
<rect x="1281.26" y="737.46" width="11.6" height="11.6" fill="#62aaf0" stroke="#58a0e8" stroke-width="0.8"/>
<rect x="1293.6" y="738.28" width="11.6" height="11.6" fill="#62aaf0" stroke="#58a0e8" stroke-width="0.8"/>
<rect x="1305.94" y="738.69" width="11.6" height="11.6" fill="#62aaf0" stroke="#58a0e8" stroke-width="0.8"/>
<path d="M867.5 580.1V599.88 M862.9 580.1H872.1 M862.9 599.88H872.1 M879.84 590.82V610.59 M875.24 590.82H884.44 M875.24 610.59H884.44 M892.18 593.29V613.06 M887.58 593.29H896.78 M887.58 613.06H896.78 M904.52 607.3V627.07 M899.92 607.3H909.12 M899.92 627.07H909.12 M916.86 616.36V636.14 M912.26 616.36H921.46 M912.26 636.14H921.46 M929.2 625.07V643.91 M924.6 625.07H933.8 M924.6 643.91H933.8 M941.54 632.96V650.85 M936.94 632.96H946.14 M936.94 650.85H946.14 M953.88 643.32V660.27 M949.28 643.32H958.48 M949.28 660.27H958.48 M966.22 655.32V671.33 M961.62 655.32H970.82 M961.62 671.33H970.82 M978.56 664.86V679.93 M973.96 664.86H983.16 M973.96 679.93H983.16 M990.9 676.04V690.17 M986.3 676.04H995.5 M986.3 690.17H995.5 M1003.24 685.58V698.76 M998.64 685.58H1007.84 M998.64 698.76H1007.84 M1015.58 694.29V706.53 M1010.98 694.29H1020.18 M1010.98 706.53H1020.18 M1027.92 701.35V712.65 M1023.32 701.35H1032.52 M1023.32 712.65H1032.52 M1040.26 707.59V717.95 M1035.66 707.59H1044.86 M1035.66 717.95H1044.86 M1052.6 713V722.42 M1048 713H1057.2 M1048 722.42H1057.2 M1064.94 717.59V726.07 M1060.34 717.59H1069.54 M1060.34 726.07H1069.54 M1077.28 722.19V729.72 M1072.68 722.19H1081.88 M1072.68 729.72H1081.88 M1089.62 726.36V732.96 M1085.02 726.36H1094.22 M1085.02 732.96H1094.22 M1101.96 729.82V736.42 M1097.36 729.82H1106.56 M1097.36 736.42H1106.56 M1114.3 733.04V739.63 M1109.7 733.04H1118.9 M1109.7 739.63H1118.9 M1126.64 735.02V741.61 M1122.04 735.02H1131.24 M1122.04 741.61H1131.24 M1138.98 736.42V743.01 M1134.38 736.42H1143.58 M1134.38 743.01H1143.58 M1151.32 738.39V744.99 M1146.72 738.39H1155.92 M1146.72 744.99H1155.92 M1163.66 739.8V746.39 M1159.06 739.8H1168.26 M1159.06 746.39H1168.26 M1176 740.78V747.38 M1171.4 740.78H1180.6 M1171.4 747.38H1180.6 M1188.34 741.77V748.36 M1183.74 741.77H1192.94 M1183.74 748.36H1192.94 M1200.68 743.42V750.01 M1196.08 743.42H1205.28 M1196.08 750.01H1205.28 M1213.02 744.41V751 M1208.42 744.41H1217.62 M1208.42 751H1217.62 M1225.36 745.4V751.99 M1220.76 745.4H1229.96 M1220.76 751.99H1229.96 M1237.7 745.81V752.4 M1233.1 745.81H1242.3 M1233.1 752.4H1242.3 M1250.04 746.39V752.98 M1245.44 746.39H1254.64 M1245.44 752.98H1254.64 M1262.38 746.96V753.56 M1257.78 746.96H1266.98 M1257.78 753.56H1266.98 M1274.72 747.79V754.38 M1270.12 747.79H1279.32 M1270.12 754.38H1279.32 M1287.06 749.44V756.03 M1282.46 749.44H1291.66 M1282.46 756.03H1291.66 M1299.4 750.42V757.02 M1294.8 750.42H1304 M1294.8 757.02H1304 M1311.74 751V757.59 M1307.14 751H1316.34 M1307.14 757.59H1316.34 " fill="none" stroke="#929292" stroke-width="2.4" stroke-linecap="round"/>
<path d="M867.5 589.99 L879.84 600.7 L892.18 603.18 L904.52 617.18 L916.86 626.25 L929.2 634.49 L941.54 641.9 L953.88 651.79 L966.22 663.33 L978.56 672.39 L990.9 683.1 L1003.24 692.17 L1015.58 700.41 L1027.92 707 L1040.26 712.77 L1052.6 717.71 L1064.94 721.83 L1077.28 725.95 L1089.62 729.66 L1101.96 733.12 L1114.3 736.33 L1126.64 738.31 L1138.98 739.71 L1151.32 741.69 L1163.66 743.09 L1176 744.08 L1188.34 745.07 L1200.68 746.72 L1213.02 747.71 L1225.36 748.69 L1237.7 749.11 L1250.04 749.68 L1262.38 750.26 L1274.72 751.08 L1287.06 752.73 L1299.4 753.72 L1311.74 754.3" fill="none" stroke="#929292" stroke-width="2.6" stroke-linejoin="round"/>
<path d="M861.3 595.99 L873.7 595.99 L867.5 583.99Z" fill="#959595" stroke="#8a8a8a" stroke-width="0.8"/>
<path d="M873.64 606.7 L886.04 606.7 L879.84 594.7Z" fill="#959595" stroke="#8a8a8a" stroke-width="0.8"/>
<path d="M885.98 609.18 L898.38 609.18 L892.18 597.18Z" fill="#959595" stroke="#8a8a8a" stroke-width="0.8"/>
<path d="M898.32 623.18 L910.72 623.18 L904.52 611.18Z" fill="#959595" stroke="#8a8a8a" stroke-width="0.8"/>
<path d="M910.66 632.25 L923.06 632.25 L916.86 620.25Z" fill="#959595" stroke="#8a8a8a" stroke-width="0.8"/>
<path d="M923 640.49 L935.4 640.49 L929.2 628.49Z" fill="#959595" stroke="#8a8a8a" stroke-width="0.8"/>
<path d="M935.34 647.9 L947.74 647.9 L941.54 635.9Z" fill="#959595" stroke="#8a8a8a" stroke-width="0.8"/>
<path d="M947.68 657.79 L960.08 657.79 L953.88 645.79Z" fill="#959595" stroke="#8a8a8a" stroke-width="0.8"/>
<path d="M960.02 669.33 L972.42 669.33 L966.22 657.33Z" fill="#959595" stroke="#8a8a8a" stroke-width="0.8"/>
<path d="M972.36 678.39 L984.76 678.39 L978.56 666.39Z" fill="#959595" stroke="#8a8a8a" stroke-width="0.8"/>
<path d="M984.7 689.1 L997.1 689.1 L990.9 677.1Z" fill="#959595" stroke="#8a8a8a" stroke-width="0.8"/>
<path d="M997.04 698.17 L1009.44 698.17 L1003.24 686.17Z" fill="#959595" stroke="#8a8a8a" stroke-width="0.8"/>
<path d="M1009.38 706.41 L1021.78 706.41 L1015.58 694.41Z" fill="#959595" stroke="#8a8a8a" stroke-width="0.8"/>
<path d="M1021.72 713 L1034.12 713 L1027.92 701Z" fill="#959595" stroke="#8a8a8a" stroke-width="0.8"/>
<path d="M1034.06 718.77 L1046.46 718.77 L1040.26 706.77Z" fill="#959595" stroke="#8a8a8a" stroke-width="0.8"/>
<path d="M1046.4 723.71 L1058.8 723.71 L1052.6 711.71Z" fill="#959595" stroke="#8a8a8a" stroke-width="0.8"/>
<path d="M1058.74 727.83 L1071.14 727.83 L1064.94 715.83Z" fill="#959595" stroke="#8a8a8a" stroke-width="0.8"/>
<path d="M1071.08 731.95 L1083.48 731.95 L1077.28 719.95Z" fill="#959595" stroke="#8a8a8a" stroke-width="0.8"/>
<path d="M1083.42 735.66 L1095.82 735.66 L1089.62 723.66Z" fill="#959595" stroke="#8a8a8a" stroke-width="0.8"/>
<path d="M1095.76 739.12 L1108.16 739.12 L1101.96 727.12Z" fill="#959595" stroke="#8a8a8a" stroke-width="0.8"/>
<path d="M1108.1 742.33 L1120.5 742.33 L1114.3 730.33Z" fill="#959595" stroke="#8a8a8a" stroke-width="0.8"/>
<path d="M1120.44 744.31 L1132.84 744.31 L1126.64 732.31Z" fill="#959595" stroke="#8a8a8a" stroke-width="0.8"/>
<path d="M1132.78 745.71 L1145.18 745.71 L1138.98 733.71Z" fill="#959595" stroke="#8a8a8a" stroke-width="0.8"/>
<path d="M1145.12 747.69 L1157.52 747.69 L1151.32 735.69Z" fill="#959595" stroke="#8a8a8a" stroke-width="0.8"/>
<path d="M1157.46 749.09 L1169.86 749.09 L1163.66 737.09Z" fill="#959595" stroke="#8a8a8a" stroke-width="0.8"/>
<path d="M1169.8 750.08 L1182.2 750.08 L1176 738.08Z" fill="#959595" stroke="#8a8a8a" stroke-width="0.8"/>
<path d="M1182.14 751.07 L1194.54 751.07 L1188.34 739.07Z" fill="#959595" stroke="#8a8a8a" stroke-width="0.8"/>
<path d="M1194.48 752.72 L1206.88 752.72 L1200.68 740.72Z" fill="#959595" stroke="#8a8a8a" stroke-width="0.8"/>
<path d="M1206.82 753.71 L1219.22 753.71 L1213.02 741.71Z" fill="#959595" stroke="#8a8a8a" stroke-width="0.8"/>
<path d="M1219.16 754.69 L1231.56 754.69 L1225.36 742.69Z" fill="#959595" stroke="#8a8a8a" stroke-width="0.8"/>
<path d="M1231.5 755.11 L1243.9 755.11 L1237.7 743.11Z" fill="#959595" stroke="#8a8a8a" stroke-width="0.8"/>
<path d="M1243.84 755.68 L1256.24 755.68 L1250.04 743.68Z" fill="#959595" stroke="#8a8a8a" stroke-width="0.8"/>
<path d="M1256.18 756.26 L1268.58 756.26 L1262.38 744.26Z" fill="#959595" stroke="#8a8a8a" stroke-width="0.8"/>
<path d="M1268.52 757.08 L1280.92 757.08 L1274.72 745.08Z" fill="#959595" stroke="#8a8a8a" stroke-width="0.8"/>
<path d="M1280.86 758.73 L1293.26 758.73 L1287.06 746.73Z" fill="#959595" stroke="#8a8a8a" stroke-width="0.8"/>
<path d="M1293.2 759.72 L1305.6 759.72 L1299.4 747.72Z" fill="#959595" stroke="#8a8a8a" stroke-width="0.8"/>
<path d="M1305.54 760.3 L1317.94 760.3 L1311.74 748.3Z" fill="#959595" stroke="#8a8a8a" stroke-width="0.8"/>
<path d="M867.5 550.03V578.87 M862.9 550.03H872.1 M862.9 578.87H872.1 M879.84 552.5V581.34 M875.24 552.5H884.44 M875.24 581.34H884.44 M892.18 555.8V584.64 M887.58 555.8H896.78 M887.58 584.64H896.78 M904.52 556.62V585.46 M899.92 556.62H909.12 M899.92 585.46H909.12 M916.86 559.92V588.76 M912.26 559.92H921.46 M912.26 588.76H921.46 M929.2 559.92V588.76 M924.6 559.92H933.8 M924.6 588.76H933.8 M941.54 564.86V593.7 M936.94 564.86H946.14 M936.94 593.7H946.14 M953.88 568.16V597 M949.28 568.16H958.48 M949.28 597H958.48 M966.22 573.1V601.94 M961.62 573.1H970.82 M961.62 601.94H970.82 M978.56 577.22V606.06 M973.96 577.22H983.16 M973.96 606.06H983.16 M990.9 582.16V611 M986.3 582.16H995.5 M986.3 611H995.5 M1003.24 585.46V614.3 M998.64 585.46H1007.84 M998.64 614.3H1007.84 M1015.58 588.76V617.6 M1010.98 588.76H1020.18 M1010.98 617.6H1020.18 M1027.92 592.05V620.89 M1023.32 592.05H1032.52 M1023.32 620.89H1032.52 M1040.26 596.17V625.01 M1035.66 596.17H1044.86 M1035.66 625.01H1044.86 M1052.6 599.47V628.31 M1048 599.47H1057.2 M1048 628.31H1057.2 M1064.94 604.41V633.25 M1060.34 604.41H1069.54 M1060.34 633.25H1069.54 M1077.28 601.94V630.78 M1072.68 601.94H1081.88 M1072.68 630.78H1081.88 M1089.62 612.65V641.49 M1085.02 612.65H1094.22 M1085.02 641.49H1094.22 M1101.96 605.24V634.08 M1097.36 605.24H1106.56 M1097.36 634.08H1106.56 M1114.3 617.6V646.44 M1109.7 617.6H1118.9 M1109.7 646.44H1118.9 M1126.64 620.89V649.73 M1122.04 620.89H1131.24 M1122.04 649.73H1131.24 M1138.98 611V639.84 M1134.38 611H1143.58 M1134.38 639.84H1143.58 M1151.32 614.3V643.14 M1146.72 614.3H1155.92 M1146.72 643.14H1155.92 M1163.66 623.36V652.2 M1159.06 623.36H1168.26 M1159.06 652.2H1168.26 M1176 618.42V647.26 M1171.4 618.42H1180.6 M1171.4 647.26H1180.6 M1188.34 610.18V639.02 M1183.74 610.18H1192.94 M1183.74 639.02H1192.94 M1200.68 620.89V649.73 M1196.08 620.89H1205.28 M1196.08 649.73H1205.28 M1213.02 623.36V652.2 M1208.42 623.36H1217.62 M1208.42 652.2H1217.62 M1225.36 612.65V641.49 M1220.76 612.65H1229.96 M1220.76 641.49H1229.96 M1237.7 621.72V650.56 M1233.1 621.72H1242.3 M1233.1 650.56H1242.3 M1250.04 615.12V643.96 M1245.44 615.12H1254.64 M1245.44 643.96H1254.64 M1262.38 627.48V656.32 M1257.78 627.48H1266.98 M1257.78 656.32H1266.98 M1274.72 629.13V657.97 M1270.12 629.13H1279.32 M1270.12 657.97H1279.32 M1287.06 620.07V648.91 M1282.46 620.07H1291.66 M1282.46 648.91H1291.66 M1299.4 629.96V658.8 M1294.8 629.96H1304 M1294.8 658.8H1304 M1311.74 634.9V663.74 M1307.14 634.9H1316.34 M1307.14 663.74H1316.34 " fill="none" stroke="#686808" stroke-width="2.4" stroke-linecap="round"/>
<path d="M867.5 564.45 L879.84 566.92 L892.18 570.22 L904.52 571.04 L916.86 574.34 L929.2 574.34 L941.54 579.28 L953.88 582.58 L966.22 587.52 L978.56 591.64 L990.9 596.58 L1003.24 599.88 L1015.58 603.18 L1027.92 606.47 L1040.26 610.59 L1052.6 613.89 L1064.94 618.83 L1077.28 616.36 L1089.62 627.07 L1101.96 619.66 L1114.3 632.02 L1126.64 635.31 L1138.98 625.42 L1151.32 628.72 L1163.66 637.78 L1176 632.84 L1188.34 624.6 L1200.68 635.31 L1213.02 637.78 L1225.36 627.07 L1237.7 636.14 L1250.04 629.54 L1262.38 641.9 L1274.72 643.55 L1287.06 634.49 L1299.4 644.38 L1311.74 649.32" fill="none" stroke="#686808" stroke-width="2.6" stroke-linejoin="round"/>
<path d="M861.3 558.45 L873.7 558.45 L867.5 570.45Z" fill="#6f6f06" stroke="#5c5c00" stroke-width="0.8"/>
<path d="M873.64 560.92 L886.04 560.92 L879.84 572.92Z" fill="#6f6f06" stroke="#5c5c00" stroke-width="0.8"/>
<path d="M885.98 564.22 L898.38 564.22 L892.18 576.22Z" fill="#6f6f06" stroke="#5c5c00" stroke-width="0.8"/>
<path d="M898.32 565.04 L910.72 565.04 L904.52 577.04Z" fill="#6f6f06" stroke="#5c5c00" stroke-width="0.8"/>
<path d="M910.66 568.34 L923.06 568.34 L916.86 580.34Z" fill="#6f6f06" stroke="#5c5c00" stroke-width="0.8"/>
<path d="M923 568.34 L935.4 568.34 L929.2 580.34Z" fill="#6f6f06" stroke="#5c5c00" stroke-width="0.8"/>
<path d="M935.34 573.28 L947.74 573.28 L941.54 585.28Z" fill="#6f6f06" stroke="#5c5c00" stroke-width="0.8"/>
<path d="M947.68 576.58 L960.08 576.58 L953.88 588.58Z" fill="#6f6f06" stroke="#5c5c00" stroke-width="0.8"/>
<path d="M960.02 581.52 L972.42 581.52 L966.22 593.52Z" fill="#6f6f06" stroke="#5c5c00" stroke-width="0.8"/>
<path d="M972.36 585.64 L984.76 585.64 L978.56 597.64Z" fill="#6f6f06" stroke="#5c5c00" stroke-width="0.8"/>
<path d="M984.7 590.58 L997.1 590.58 L990.9 602.58Z" fill="#6f6f06" stroke="#5c5c00" stroke-width="0.8"/>
<path d="M997.04 593.88 L1009.44 593.88 L1003.24 605.88Z" fill="#6f6f06" stroke="#5c5c00" stroke-width="0.8"/>
<path d="M1009.38 597.18 L1021.78 597.18 L1015.58 609.18Z" fill="#6f6f06" stroke="#5c5c00" stroke-width="0.8"/>
<path d="M1021.72 600.47 L1034.12 600.47 L1027.92 612.47Z" fill="#6f6f06" stroke="#5c5c00" stroke-width="0.8"/>
<path d="M1034.06 604.59 L1046.46 604.59 L1040.26 616.59Z" fill="#6f6f06" stroke="#5c5c00" stroke-width="0.8"/>
<path d="M1046.4 607.89 L1058.8 607.89 L1052.6 619.89Z" fill="#6f6f06" stroke="#5c5c00" stroke-width="0.8"/>
<path d="M1058.74 612.83 L1071.14 612.83 L1064.94 624.83Z" fill="#6f6f06" stroke="#5c5c00" stroke-width="0.8"/>
<path d="M1071.08 610.36 L1083.48 610.36 L1077.28 622.36Z" fill="#6f6f06" stroke="#5c5c00" stroke-width="0.8"/>
<path d="M1083.42 621.07 L1095.82 621.07 L1089.62 633.07Z" fill="#6f6f06" stroke="#5c5c00" stroke-width="0.8"/>
<path d="M1095.76 613.66 L1108.16 613.66 L1101.96 625.66Z" fill="#6f6f06" stroke="#5c5c00" stroke-width="0.8"/>
<path d="M1108.1 626.02 L1120.5 626.02 L1114.3 638.02Z" fill="#6f6f06" stroke="#5c5c00" stroke-width="0.8"/>
<path d="M1120.44 629.31 L1132.84 629.31 L1126.64 641.31Z" fill="#6f6f06" stroke="#5c5c00" stroke-width="0.8"/>
<path d="M1132.78 619.42 L1145.18 619.42 L1138.98 631.42Z" fill="#6f6f06" stroke="#5c5c00" stroke-width="0.8"/>
<path d="M1145.12 622.72 L1157.52 622.72 L1151.32 634.72Z" fill="#6f6f06" stroke="#5c5c00" stroke-width="0.8"/>
<path d="M1157.46 631.78 L1169.86 631.78 L1163.66 643.78Z" fill="#6f6f06" stroke="#5c5c00" stroke-width="0.8"/>
<path d="M1169.8 626.84 L1182.2 626.84 L1176 638.84Z" fill="#6f6f06" stroke="#5c5c00" stroke-width="0.8"/>
<path d="M1182.14 618.6 L1194.54 618.6 L1188.34 630.6Z" fill="#6f6f06" stroke="#5c5c00" stroke-width="0.8"/>
<path d="M1194.48 629.31 L1206.88 629.31 L1200.68 641.31Z" fill="#6f6f06" stroke="#5c5c00" stroke-width="0.8"/>
<path d="M1206.82 631.78 L1219.22 631.78 L1213.02 643.78Z" fill="#6f6f06" stroke="#5c5c00" stroke-width="0.8"/>
<path d="M1219.16 621.07 L1231.56 621.07 L1225.36 633.07Z" fill="#6f6f06" stroke="#5c5c00" stroke-width="0.8"/>
<path d="M1231.5 630.14 L1243.9 630.14 L1237.7 642.14Z" fill="#6f6f06" stroke="#5c5c00" stroke-width="0.8"/>
<path d="M1243.84 623.54 L1256.24 623.54 L1250.04 635.54Z" fill="#6f6f06" stroke="#5c5c00" stroke-width="0.8"/>
<path d="M1256.18 635.9 L1268.58 635.9 L1262.38 647.9Z" fill="#6f6f06" stroke="#5c5c00" stroke-width="0.8"/>
<path d="M1268.52 637.55 L1280.92 637.55 L1274.72 649.55Z" fill="#6f6f06" stroke="#5c5c00" stroke-width="0.8"/>
<path d="M1280.86 628.49 L1293.26 628.49 L1287.06 640.49Z" fill="#6f6f06" stroke="#5c5c00" stroke-width="0.8"/>
<path d="M1293.2 638.38 L1305.6 638.38 L1299.4 650.38Z" fill="#6f6f06" stroke="#5c5c00" stroke-width="0.8"/>
<path d="M1305.54 643.32 L1317.94 643.32 L1311.74 655.32Z" fill="#6f6f06" stroke="#5c5c00" stroke-width="0.8"/>
<path d="M867.5 541.38V572.69 M862.9 541.38H872.1 M862.9 572.69H872.1 M879.84 546.32V577.63 M875.24 546.32H884.44 M875.24 577.63H884.44 M892.18 546.32V577.63 M887.58 546.32H896.78 M887.58 577.63H896.78 M904.52 542.2V573.51 M899.92 542.2H909.12 M899.92 573.51H909.12 M916.86 535.61V566.92 M912.26 535.61H921.46 M912.26 566.92H921.46 M929.2 537.26V568.57 M924.6 537.26H933.8 M924.6 568.57H933.8 M941.54 537.26V568.57 M936.94 537.26H946.14 M936.94 568.57H946.14 M953.88 538.08V569.39 M949.28 538.08H958.48 M949.28 569.39H958.48 M966.22 541.38V572.69 M961.62 541.38H970.82 M961.62 572.69H970.82 M978.56 543.02V574.34 M973.96 543.02H983.16 M973.96 574.34H983.16 M990.9 545.5V576.81 M986.3 545.5H995.5 M986.3 576.81H995.5 M1003.24 546.32V577.63 M998.64 546.32H1007.84 M998.64 577.63H1007.84 M1015.58 547.14V578.46 M1010.98 547.14H1020.18 M1010.98 578.46H1020.18 M1027.92 547.97V579.28 M1023.32 547.97H1032.52 M1023.32 579.28H1032.52 M1040.26 548.79V580.1 M1035.66 548.79H1044.86 M1035.66 580.1H1044.86 M1052.6 549.62V580.93 M1048 549.62H1057.2 M1048 580.93H1057.2 M1064.94 550.44V581.75 M1060.34 550.44H1069.54 M1060.34 581.75H1069.54 M1077.28 551.26V582.58 M1072.68 551.26H1081.88 M1072.68 582.58H1081.88 M1089.62 552.09V583.4 M1085.02 552.09H1094.22 M1085.02 583.4H1094.22 M1101.96 552.91V584.22 M1097.36 552.91H1106.56 M1097.36 584.22H1106.56 M1114.3 553.74V585.05 M1109.7 553.74H1118.9 M1109.7 585.05H1118.9 M1126.64 553.74V585.05 M1122.04 553.74H1131.24 M1122.04 585.05H1131.24 M1138.98 553.74V585.05 M1134.38 553.74H1143.58 M1134.38 585.05H1143.58 M1151.32 554.56V585.87 M1146.72 554.56H1155.92 M1146.72 585.87H1155.92 M1163.66 554.56V585.87 M1159.06 554.56H1168.26 M1159.06 585.87H1168.26 M1176 554.56V585.87 M1171.4 554.56H1180.6 M1171.4 585.87H1180.6 M1188.34 554.56V585.87 M1183.74 554.56H1192.94 M1183.74 585.87H1192.94 M1200.68 554.56V585.87 M1196.08 554.56H1205.28 M1196.08 585.87H1205.28 M1213.02 554.56V585.87 M1208.42 554.56H1217.62 M1208.42 585.87H1217.62 M1225.36 554.56V585.87 M1220.76 554.56H1229.96 M1220.76 585.87H1229.96 M1237.7 553.74V585.05 M1233.1 553.74H1242.3 M1233.1 585.05H1242.3 M1250.04 549.62V580.93 M1245.44 549.62H1254.64 M1245.44 580.93H1254.64 M1262.38 555.38V586.7 M1257.78 555.38H1266.98 M1257.78 586.7H1266.98 M1274.72 556.21V587.52 M1270.12 556.21H1279.32 M1270.12 587.52H1279.32 M1287.06 555.38V586.7 M1282.46 555.38H1291.66 M1282.46 586.7H1291.66 M1299.4 555.38V586.7 M1294.8 555.38H1304 M1294.8 586.7H1304 M1311.74 555.38V586.7 M1307.14 555.38H1316.34 M1307.14 586.7H1316.34 " fill="none" stroke="#57579a" stroke-width="2.4" stroke-linecap="round"/>
<path d="M867.5 557.03 L879.84 561.98 L892.18 561.98 L904.52 557.86 L916.86 551.26 L929.2 552.91 L941.54 552.91 L953.88 553.74 L966.22 557.03 L978.56 558.68 L990.9 561.15 L1003.24 561.98 L1015.58 562.8 L1027.92 563.62 L1040.26 564.45 L1052.6 565.27 L1064.94 566.1 L1077.28 566.92 L1089.62 567.74 L1101.96 568.57 L1114.3 569.39 L1126.64 569.39 L1138.98 569.39 L1151.32 570.22 L1163.66 570.22 L1176 570.22 L1188.34 570.22 L1200.68 570.22 L1213.02 570.22 L1225.36 570.22 L1237.7 569.39 L1250.04 565.27 L1262.38 571.04 L1274.72 571.86 L1287.06 571.04 L1299.4 571.04 L1311.74 571.04" fill="none" stroke="#57579a" stroke-width="2.6" stroke-linejoin="round"/>
<path d="M867.5 551.23 L872.7 557.03 L867.5 562.83 L862.3 557.03Z" fill="#5f5ea0" stroke="#46467c" stroke-width="1"/>
<path d="M879.84 556.18 L885.04 561.98 L879.84 567.78 L874.64 561.98Z" fill="#5f5ea0" stroke="#46467c" stroke-width="1"/>
<path d="M892.18 556.18 L897.38 561.98 L892.18 567.78 L886.98 561.98Z" fill="#5f5ea0" stroke="#46467c" stroke-width="1"/>
<path d="M904.52 552.06 L909.72 557.86 L904.52 563.66 L899.32 557.86Z" fill="#5f5ea0" stroke="#46467c" stroke-width="1"/>
<path d="M916.86 545.46 L922.06 551.26 L916.86 557.06 L911.66 551.26Z" fill="#5f5ea0" stroke="#46467c" stroke-width="1"/>
<path d="M929.2 547.11 L934.4 552.91 L929.2 558.71 L924 552.91Z" fill="#5f5ea0" stroke="#46467c" stroke-width="1"/>
<path d="M941.54 547.11 L946.74 552.91 L941.54 558.71 L936.34 552.91Z" fill="#5f5ea0" stroke="#46467c" stroke-width="1"/>
<path d="M953.88 547.94 L959.08 553.74 L953.88 559.54 L948.68 553.74Z" fill="#5f5ea0" stroke="#46467c" stroke-width="1"/>
<path d="M966.22 551.23 L971.42 557.03 L966.22 562.83 L961.02 557.03Z" fill="#5f5ea0" stroke="#46467c" stroke-width="1"/>
<path d="M978.56 552.88 L983.76 558.68 L978.56 564.48 L973.36 558.68Z" fill="#5f5ea0" stroke="#46467c" stroke-width="1"/>
<path d="M990.9 555.35 L996.1 561.15 L990.9 566.95 L985.7 561.15Z" fill="#5f5ea0" stroke="#46467c" stroke-width="1"/>
<path d="M1003.24 556.18 L1008.44 561.98 L1003.24 567.78 L998.04 561.98Z" fill="#5f5ea0" stroke="#46467c" stroke-width="1"/>
<path d="M1015.58 557 L1020.78 562.8 L1015.58 568.6 L1010.38 562.8Z" fill="#5f5ea0" stroke="#46467c" stroke-width="1"/>
<path d="M1027.92 557.82 L1033.12 563.62 L1027.92 569.42 L1022.72 563.62Z" fill="#5f5ea0" stroke="#46467c" stroke-width="1"/>
<path d="M1040.26 558.65 L1045.46 564.45 L1040.26 570.25 L1035.06 564.45Z" fill="#5f5ea0" stroke="#46467c" stroke-width="1"/>
<path d="M1052.6 559.47 L1057.8 565.27 L1052.6 571.07 L1047.4 565.27Z" fill="#5f5ea0" stroke="#46467c" stroke-width="1"/>
<path d="M1064.94 560.3 L1070.14 566.1 L1064.94 571.9 L1059.74 566.1Z" fill="#5f5ea0" stroke="#46467c" stroke-width="1"/>
<path d="M1077.28 561.12 L1082.48 566.92 L1077.28 572.72 L1072.08 566.92Z" fill="#5f5ea0" stroke="#46467c" stroke-width="1"/>
<path d="M1089.62 561.94 L1094.82 567.74 L1089.62 573.54 L1084.42 567.74Z" fill="#5f5ea0" stroke="#46467c" stroke-width="1"/>
<path d="M1101.96 562.77 L1107.16 568.57 L1101.96 574.37 L1096.76 568.57Z" fill="#5f5ea0" stroke="#46467c" stroke-width="1"/>
<path d="M1114.3 563.59 L1119.5 569.39 L1114.3 575.19 L1109.1 569.39Z" fill="#5f5ea0" stroke="#46467c" stroke-width="1"/>
<path d="M1126.64 563.59 L1131.84 569.39 L1126.64 575.19 L1121.44 569.39Z" fill="#5f5ea0" stroke="#46467c" stroke-width="1"/>
<path d="M1138.98 563.59 L1144.18 569.39 L1138.98 575.19 L1133.78 569.39Z" fill="#5f5ea0" stroke="#46467c" stroke-width="1"/>
<path d="M1151.32 564.42 L1156.52 570.22 L1151.32 576.02 L1146.12 570.22Z" fill="#5f5ea0" stroke="#46467c" stroke-width="1"/>
<path d="M1163.66 564.42 L1168.86 570.22 L1163.66 576.02 L1158.46 570.22Z" fill="#5f5ea0" stroke="#46467c" stroke-width="1"/>
<path d="M1176 564.42 L1181.2 570.22 L1176 576.02 L1170.8 570.22Z" fill="#5f5ea0" stroke="#46467c" stroke-width="1"/>
<path d="M1188.34 564.42 L1193.54 570.22 L1188.34 576.02 L1183.14 570.22Z" fill="#5f5ea0" stroke="#46467c" stroke-width="1"/>
<path d="M1200.68 564.42 L1205.88 570.22 L1200.68 576.02 L1195.48 570.22Z" fill="#5f5ea0" stroke="#46467c" stroke-width="1"/>
<path d="M1213.02 564.42 L1218.22 570.22 L1213.02 576.02 L1207.82 570.22Z" fill="#5f5ea0" stroke="#46467c" stroke-width="1"/>
<path d="M1225.36 564.42 L1230.56 570.22 L1225.36 576.02 L1220.16 570.22Z" fill="#5f5ea0" stroke="#46467c" stroke-width="1"/>
<path d="M1237.7 563.59 L1242.9 569.39 L1237.7 575.19 L1232.5 569.39Z" fill="#5f5ea0" stroke="#46467c" stroke-width="1"/>
<path d="M1250.04 559.47 L1255.24 565.27 L1250.04 571.07 L1244.84 565.27Z" fill="#5f5ea0" stroke="#46467c" stroke-width="1"/>
<path d="M1262.38 565.24 L1267.58 571.04 L1262.38 576.84 L1257.18 571.04Z" fill="#5f5ea0" stroke="#46467c" stroke-width="1"/>
<path d="M1274.72 566.06 L1279.92 571.86 L1274.72 577.66 L1269.52 571.86Z" fill="#5f5ea0" stroke="#46467c" stroke-width="1"/>
<path d="M1287.06 565.24 L1292.26 571.04 L1287.06 576.84 L1281.86 571.04Z" fill="#5f5ea0" stroke="#46467c" stroke-width="1"/>
<path d="M1299.4 565.24 L1304.6 571.04 L1299.4 576.84 L1294.2 571.04Z" fill="#5f5ea0" stroke="#46467c" stroke-width="1"/>
<path d="M1311.74 565.24 L1316.94 571.04 L1311.74 576.84 L1306.54 571.04Z" fill="#5f5ea0" stroke="#46467c" stroke-width="1"/>
<path d="M867.5 530.25V559.09 M862.9 530.25H872.1 M862.9 559.09H872.1 M879.84 533.55V562.39 M875.24 533.55H884.44 M875.24 562.39H884.44 M892.18 532.72V561.56 M887.58 532.72H896.78 M887.58 561.56H896.78 M904.52 517.89V546.73 M899.92 517.89H909.12 M899.92 546.73H909.12 M916.86 525.31V554.15 M912.26 525.31H921.46 M912.26 554.15H921.46 M929.2 512.95V541.79 M924.6 512.95H933.8 M924.6 541.79H933.8 M941.54 514.6V543.44 M936.94 514.6H946.14 M936.94 543.44H946.14 M953.88 515.42V544.26 M949.28 515.42H958.48 M949.28 544.26H958.48 M966.22 518.72V547.56 M961.62 518.72H970.82 M961.62 547.56H970.82 M978.56 521.19V550.03 M973.96 521.19H983.16 M973.96 550.03H983.16 M990.9 522.84V551.68 M986.3 522.84H995.5 M986.3 551.68H995.5 M1003.24 522.84V551.68 M998.64 522.84H1007.84 M998.64 551.68H1007.84 M1015.58 524.48V553.32 M1010.98 524.48H1020.18 M1010.98 553.32H1020.18 M1027.92 524.48V553.32 M1023.32 524.48H1032.52 M1023.32 553.32H1032.52 M1040.26 526.13V554.97 M1035.66 526.13H1044.86 M1035.66 554.97H1044.86 M1052.6 527.78V556.62 M1048 527.78H1057.2 M1048 556.62H1057.2 M1064.94 531.08V559.92 M1060.34 531.08H1069.54 M1060.34 559.92H1069.54 M1077.28 532.72V561.56 M1072.68 532.72H1081.88 M1072.68 561.56H1081.88 M1089.62 535.2V564.04 M1085.02 535.2H1094.22 M1085.02 564.04H1094.22 M1101.96 545.08V573.92 M1097.36 545.08H1106.56 M1097.36 573.92H1106.56 M1114.3 534.37V563.21 M1109.7 534.37H1118.9 M1109.7 563.21H1118.9 M1126.64 534.37V563.21 M1122.04 534.37H1131.24 M1122.04 563.21H1131.24 M1138.98 534.37V563.21 M1134.38 534.37H1143.58 M1134.38 563.21H1143.58 M1151.32 544.26V573.1 M1146.72 544.26H1155.92 M1146.72 573.1H1155.92 M1163.66 543.44V572.28 M1159.06 543.44H1168.26 M1159.06 572.28H1168.26 M1176 542.61V571.45 M1171.4 542.61H1180.6 M1171.4 571.45H1180.6 M1188.34 542.61V571.45 M1183.74 542.61H1192.94 M1183.74 571.45H1192.94 M1200.68 541.79V570.63 M1196.08 541.79H1205.28 M1196.08 570.63H1205.28 M1213.02 540.14V568.98 M1208.42 540.14H1217.62 M1208.42 568.98H1217.62 M1225.36 550.03V578.87 M1220.76 550.03H1229.96 M1220.76 578.87H1229.96 M1237.7 555.59V588.14 M1233.1 555.59H1242.3 M1233.1 588.14H1242.3 M1250.04 571.86V608.12 M1245.44 571.86H1254.64 M1245.44 608.12H1254.64 M1262.38 571.86V608.12 M1257.78 571.86H1266.98 M1257.78 608.12H1266.98 M1274.72 561.98V598.23 M1270.12 561.98H1279.32 M1270.12 598.23H1279.32 M1287.06 570.22V606.47 M1282.46 570.22H1291.66 M1282.46 606.47H1291.66 M1299.4 570.22V606.47 M1294.8 570.22H1304 M1294.8 606.47H1304 M1311.74 569.39V605.65 M1307.14 569.39H1316.34 M1307.14 605.65H1316.34 " fill="none" stroke="#2f68a8" stroke-width="2.4" stroke-linecap="round"/>
<path d="M867.5 544.67 L879.84 547.97 L892.18 547.14 L904.52 532.31 L916.86 539.73 L929.2 527.37 L941.54 529.02 L953.88 529.84 L966.22 533.14 L978.56 535.61 L990.9 537.26 L1003.24 537.26 L1015.58 538.9 L1027.92 538.9 L1040.26 540.55 L1052.6 542.2 L1064.94 545.5 L1077.28 547.14 L1089.62 549.62 L1101.96 559.5 L1114.3 548.79 L1126.64 548.79 L1138.98 548.79 L1151.32 558.68 L1163.66 557.86 L1176 557.03 L1188.34 557.03 L1200.68 556.21 L1213.02 554.56 L1225.36 564.45 L1237.7 571.86 L1250.04 589.99 L1262.38 589.99 L1274.72 580.1 L1287.06 588.34 L1299.4 588.34 L1311.74 587.52" fill="none" stroke="#2f68a8" stroke-width="2.6" stroke-linejoin="round"/>
<circle cx="867.5" cy="544.67" r="7.4" fill="#3672b2" stroke="#24568e" stroke-width="1"/>
<circle cx="879.84" cy="547.97" r="7.4" fill="#3672b2" stroke="#24568e" stroke-width="1"/>
<circle cx="892.18" cy="547.14" r="7.4" fill="#3672b2" stroke="#24568e" stroke-width="1"/>
<circle cx="904.52" cy="532.31" r="7.4" fill="#3672b2" stroke="#24568e" stroke-width="1"/>
<circle cx="916.86" cy="539.73" r="7.4" fill="#3672b2" stroke="#24568e" stroke-width="1"/>
<circle cx="929.2" cy="527.37" r="7.4" fill="#3672b2" stroke="#24568e" stroke-width="1"/>
<circle cx="941.54" cy="529.02" r="7.4" fill="#3672b2" stroke="#24568e" stroke-width="1"/>
<circle cx="953.88" cy="529.84" r="7.4" fill="#3672b2" stroke="#24568e" stroke-width="1"/>
<circle cx="966.22" cy="533.14" r="7.4" fill="#3672b2" stroke="#24568e" stroke-width="1"/>
<circle cx="978.56" cy="535.61" r="7.4" fill="#3672b2" stroke="#24568e" stroke-width="1"/>
<circle cx="990.9" cy="537.26" r="7.4" fill="#3672b2" stroke="#24568e" stroke-width="1"/>
<circle cx="1003.24" cy="537.26" r="7.4" fill="#3672b2" stroke="#24568e" stroke-width="1"/>
<circle cx="1015.58" cy="538.9" r="7.4" fill="#3672b2" stroke="#24568e" stroke-width="1"/>
<circle cx="1027.92" cy="538.9" r="7.4" fill="#3672b2" stroke="#24568e" stroke-width="1"/>
<circle cx="1040.26" cy="540.55" r="7.4" fill="#3672b2" stroke="#24568e" stroke-width="1"/>
<circle cx="1052.6" cy="542.2" r="7.4" fill="#3672b2" stroke="#24568e" stroke-width="1"/>
<circle cx="1064.94" cy="545.5" r="7.4" fill="#3672b2" stroke="#24568e" stroke-width="1"/>
<circle cx="1077.28" cy="547.14" r="7.4" fill="#3672b2" stroke="#24568e" stroke-width="1"/>
<circle cx="1089.62" cy="549.62" r="7.4" fill="#3672b2" stroke="#24568e" stroke-width="1"/>
<circle cx="1101.96" cy="559.5" r="7.4" fill="#3672b2" stroke="#24568e" stroke-width="1"/>
<circle cx="1114.3" cy="548.79" r="7.4" fill="#3672b2" stroke="#24568e" stroke-width="1"/>
<circle cx="1126.64" cy="548.79" r="7.4" fill="#3672b2" stroke="#24568e" stroke-width="1"/>
<circle cx="1138.98" cy="548.79" r="7.4" fill="#3672b2" stroke="#24568e" stroke-width="1"/>
<circle cx="1151.32" cy="558.68" r="7.4" fill="#3672b2" stroke="#24568e" stroke-width="1"/>
<circle cx="1163.66" cy="557.86" r="7.4" fill="#3672b2" stroke="#24568e" stroke-width="1"/>
<circle cx="1176" cy="557.03" r="7.4" fill="#3672b2" stroke="#24568e" stroke-width="1"/>
<circle cx="1188.34" cy="557.03" r="7.4" fill="#3672b2" stroke="#24568e" stroke-width="1"/>
<circle cx="1200.68" cy="556.21" r="7.4" fill="#3672b2" stroke="#24568e" stroke-width="1"/>
<circle cx="1213.02" cy="554.56" r="7.4" fill="#3672b2" stroke="#24568e" stroke-width="1"/>
<circle cx="1225.36" cy="564.45" r="7.4" fill="#3672b2" stroke="#24568e" stroke-width="1"/>
<circle cx="1237.7" cy="571.86" r="7.4" fill="#3672b2" stroke="#24568e" stroke-width="1"/>
<circle cx="1250.04" cy="589.99" r="7.4" fill="#3672b2" stroke="#24568e" stroke-width="1"/>
<circle cx="1262.38" cy="589.99" r="7.4" fill="#3672b2" stroke="#24568e" stroke-width="1"/>
<circle cx="1274.72" cy="580.1" r="7.4" fill="#3672b2" stroke="#24568e" stroke-width="1"/>
<circle cx="1287.06" cy="588.34" r="7.4" fill="#3672b2" stroke="#24568e" stroke-width="1"/>
<circle cx="1299.4" cy="588.34" r="7.4" fill="#3672b2" stroke="#24568e" stroke-width="1"/>
<circle cx="1311.74" cy="587.52" r="7.4" fill="#3672b2" stroke="#24568e" stroke-width="1"/>
<line x1="859.3" y1="812" x2="859.3" y2="504" stroke="#000" stroke-width="4"/>
<line x1="847.4" y1="810" x2="1320" y2="810" stroke="#000" stroke-width="4"/>
<line x1="847.4" y1="810" x2="859.3" y2="810" stroke="#000" stroke-width="4"/>
<text x="845.5" y="817.2" font-size="27.5" text-anchor="end">0</text>
<line x1="847.4" y1="768.8" x2="859.3" y2="768.8" stroke="#000" stroke-width="4"/>
<text x="845.5" y="776" font-size="27.5" text-anchor="end">5</text>
<line x1="847.4" y1="727.6" x2="859.3" y2="727.6" stroke="#000" stroke-width="4"/>
<text x="845.5" y="734.8" font-size="27.5" text-anchor="end">10</text>
<line x1="847.4" y1="686.4" x2="859.3" y2="686.4" stroke="#000" stroke-width="4"/>
<text x="845.5" y="693.6" font-size="27.5" text-anchor="end">15</text>
<line x1="847.4" y1="645.2" x2="859.3" y2="645.2" stroke="#000" stroke-width="4"/>
<text x="845.5" y="652.4" font-size="27.5" text-anchor="end">20</text>
<line x1="847.4" y1="604" x2="859.3" y2="604" stroke="#000" stroke-width="4"/>
<text x="845.5" y="611.2" font-size="27.5" text-anchor="end">25</text>
<line x1="847.4" y1="562.8" x2="859.3" y2="562.8" stroke="#000" stroke-width="4"/>
<text x="845.5" y="570" font-size="27.5" text-anchor="end">30</text>
<line x1="847.4" y1="521.6" x2="859.3" y2="521.6" stroke="#000" stroke-width="4"/>
<text x="845.5" y="528.8" font-size="27.5" text-anchor="end">35</text>
<line x1="867.5" y1="810" x2="867.5" y2="822" stroke="#000" stroke-width="4.4"/>
<text x="866.7" y="849.2" font-size="27.5" text-anchor="middle">0</text>
<line x1="941.54" y1="810" x2="941.54" y2="822" stroke="#000" stroke-width="4.4"/>
<text x="940.74" y="849.2" font-size="27.5" text-anchor="middle">12</text>
<line x1="1015.58" y1="810" x2="1015.58" y2="822" stroke="#000" stroke-width="4.4"/>
<text x="1014.78" y="849.2" font-size="27.5" text-anchor="middle">24</text>
<line x1="1089.62" y1="810" x2="1089.62" y2="822" stroke="#000" stroke-width="4.4"/>
<text x="1088.82" y="849.2" font-size="27.5" text-anchor="middle">36</text>
<line x1="1163.66" y1="810" x2="1163.66" y2="822" stroke="#000" stroke-width="4.4"/>
<text x="1162.86" y="849.2" font-size="27.5" text-anchor="middle">48</text>
<line x1="1237.7" y1="810" x2="1237.7" y2="822" stroke="#000" stroke-width="4.4"/>
<text x="1236.9" y="849.2" font-size="27.5" text-anchor="middle">60</text>
<line x1="1311.74" y1="810" x2="1311.74" y2="822" stroke="#000" stroke-width="4.4"/>
<text x="1310.94" y="849.2" font-size="27.5" text-anchor="middle">72</text>
<text x="1090" y="893.3" font-size="26" text-anchor="middle" font-weight="bold" textLength="103" lengthAdjust="spacingAndGlyphs">Time (h)</text>
<text x="1100.7" y="490.6" font-size="26" text-anchor="middle" font-weight="bold" textLength="266" lengthAdjust="spacingAndGlyphs">AZD2014 + Dasatinib</text>
<text transform="translate(787.8 649.2) rotate(-90)" text-anchor="middle" font-size="27" font-weight="bold" textLength="377" lengthAdjust="spacingAndGlyphs">Phase Object Confluence (%)</text>
<line x1="1375.5" y1="550.3" x2="1408.7" y2="550.3" stroke="#24568e" stroke-width="2.5" stroke-linecap="round"/>
<circle cx="1392.3" cy="550.3" r="7.4" fill="#3672b2" stroke="#24568e" stroke-width="1"/>
<text x="1423.6" y="559.8" font-size="27" textLength="223.5" lengthAdjust="spacingAndGlyphs">Veh (DMSO 0.1%)</text>
<line x1="1375.5" y1="592.5" x2="1408.7" y2="592.5" stroke="#46467c" stroke-width="2.5" stroke-linecap="round"/>
<path d="M1392.3 586.7 L1397.5 592.5 L1392.3 598.3 L1387.1 592.5Z" fill="#5f5ea0" stroke="#46467c" stroke-width="1"/>
<text x="1425.1" y="601.3" font-size="27" textLength="116.5" lengthAdjust="spacingAndGlyphs">0.001 <tspan font-weight="normal" font-family="'Liberation Serif', serif">μ</tspan>M</text>
<line x1="1375.5" y1="634.6" x2="1408.7" y2="634.6" stroke="#5c5c00" stroke-width="2.5" stroke-linecap="round"/>
<path d="M1386.1 628.6 L1398.5 628.6 L1392.3 640.6Z" fill="#6f6f06" stroke="#5c5c00" stroke-width="0.8"/>
<text x="1425.1" y="643" font-size="27" textLength="100.5" lengthAdjust="spacingAndGlyphs">0.01 <tspan font-weight="normal" font-family="'Liberation Serif', serif">μ</tspan>M</text>
<line x1="1375.5" y1="676.6" x2="1408.7" y2="676.6" stroke="#8a8a8a" stroke-width="2.5" stroke-linecap="round"/>
<path d="M1386.1 682.6 L1398.5 682.6 L1392.3 670.6Z" fill="#959595" stroke="#8a8a8a" stroke-width="0.8"/>
<text x="1425.1" y="685.2" font-size="27" textLength="85.5" lengthAdjust="spacingAndGlyphs">0.1 <tspan font-weight="normal" font-family="'Liberation Serif', serif">μ</tspan>M</text>
<line x1="1375.5" y1="718.1" x2="1408.7" y2="718.1" stroke="#58a0e8" stroke-width="2.5" stroke-linecap="round"/>
<rect x="1386.5" y="712.3" width="11.6" height="11.6" fill="#62aaf0" stroke="#58a0e8" stroke-width="0.8"/>
<text x="1425.1" y="727.2" font-size="27" textLength="62" lengthAdjust="spacingAndGlyphs">1 <tspan font-weight="normal" font-family="'Liberation Serif', serif">μ</tspan>M</text>
<line x1="1375.5" y1="760.6" x2="1408.7" y2="760.6" stroke="#c0c08a" stroke-width="2.5" stroke-linecap="round"/>
<circle cx="1392.3" cy="760.6" r="6.6" fill="#c9c996" stroke="#c0c08a" stroke-width="1"/>
<text x="1425.1" y="768.7" font-size="27" textLength="77" lengthAdjust="spacingAndGlyphs">10 <tspan font-weight="normal" font-family="'Liberation Serif', serif">μ</tspan>M</text>
<path d="M231.53 1165.56 L231.53 1165.1 L231.54 1164.65 L231.54 1164.2 L231.55 1163.74 L231.56 1163.29 L231.56 1162.83 L231.57 1162.37 L231.58 1161.92 L231.58 1161.46 L231.59 1161 L231.6 1160.55 L231.6 1160.09 L231.61 1159.63 L231.62 1159.17 L231.63 1158.72 L231.63 1158.26 L231.64 1157.8 L231.65 1157.34 L231.66 1156.88 L231.67 1156.42 L231.68 1155.96 L231.68 1155.5 L231.69 1155.04 L231.7 1154.58 L231.71 1154.12 L231.72 1153.66 L231.73 1153.19 L231.74 1152.73 L231.75 1152.27 L231.76 1151.81 L231.77 1151.35 L231.78 1150.88 L231.79 1150.42 L231.8 1149.96 L231.81 1149.5 L231.82 1149.03 L231.83 1148.57 L231.84 1148.11 L231.86 1147.64 L231.87 1147.18 L231.88 1146.71 L231.89 1146.25 L231.9 1145.79 L231.92 1145.32 L231.93 1144.86 L231.94 1144.39 L231.96 1143.93 L231.97 1143.46 L231.98 1143 L232 1142.53 L232.01 1142.07 L232.03 1141.6 L232.04 1141.14 L232.06 1140.67 L232.07 1140.21 L232.09 1139.74 L232.1 1139.28 L232.12 1138.81 L232.14 1138.35 L232.15 1137.88 L232.17 1137.41 L232.19 1136.95 L232.2 1136.48 L232.22 1136.02 L232.24 1135.55 L232.26 1135.09 L232.28 1134.62 L232.3 1134.16 L232.32 1133.69 L232.34 1133.23 L232.36 1132.76 L232.38 1132.3 L232.4 1131.83 L232.42 1131.37 L232.44 1130.9 L232.47 1130.44 L232.49 1129.97 L232.51 1129.51 L232.54 1129.04 L232.56 1128.58 L232.59 1128.11 L232.61 1127.65 L232.64 1127.18 L232.66 1126.72 L232.69 1126.26 L232.71 1125.79 L232.74 1125.33 L232.77 1124.86 L232.8 1124.4 L232.83 1123.94 L232.86 1123.47 L232.89 1123.01 L232.92 1122.55 L232.95 1122.09 L232.98 1121.62 L233.01 1121.16 L233.04 1120.7 L233.08 1120.24 L233.11 1119.78 L233.14 1119.32 L233.18 1118.86 L233.21 1118.39 L233.25 1117.93 L233.29 1117.47 L233.32 1117.01 L233.36 1116.55 L233.4 1116.09 L233.44 1115.64 L233.48 1115.18 L233.52 1114.72 L233.56 1114.26 L233.61 1113.8 L233.65 1113.34 L233.69 1112.89 L233.74 1112.43 L233.79 1111.97 L233.83 1111.52 L233.88 1111.06 L233.93 1110.6 L233.98 1110.15 L234.03 1109.69 L234.08 1109.24 L234.13 1108.78 L234.18 1108.33 L234.24 1107.88 L234.29 1107.42 L234.35 1106.97 L234.4 1106.52 L234.46 1106.07 L234.52 1105.61 L234.58 1105.16 L234.64 1104.71 L234.7 1104.26 L234.76 1103.81 L234.83 1103.36 L234.89 1102.91 L234.96 1102.46 L235.03 1102.02 L235.1 1101.57 L235.17 1101.12 L235.24 1100.67 L235.31 1100.23 L235.38 1099.78 L235.46 1099.33 L235.54 1098.89 L235.61 1098.44 L235.69 1098 L235.77 1097.56 L235.86 1097.11 L235.94 1096.67 L236.03 1096.23 L236.11 1095.79 L236.2 1095.35 L236.29 1094.91 L236.38 1094.47 L236.48 1094.03 L236.57 1093.59 L236.67 1093.15 L236.76 1092.71 L236.87 1092.27 L236.97 1091.84 L237.07 1091.4 L237.18 1090.96 L237.28 1090.53 L237.39 1090.1 L237.5 1089.66 L237.62 1089.23 L237.73 1088.8 L237.85 1088.36 L237.97 1087.93 L238.09 1087.5 L238.22 1087.07 L238.34 1086.64 L238.47 1086.21 L238.6 1085.78 L238.74 1085.36 L238.87 1084.93 L239.01 1084.5 L239.15 1084.08 L239.29 1083.65 L239.44 1083.23 L239.59 1082.8 L239.74 1082.38 L239.89 1081.96 L240.05 1081.53 L240.21 1081.11 L240.37 1080.69 L240.53 1080.27 L240.7 1079.85 L240.87 1079.43 L241.05 1079.02 L241.22 1078.6 L241.4 1078.18 L241.59 1077.77 L241.77 1077.35 L241.96 1076.94 L242.16 1076.52 L242.35 1076.11 L242.55 1075.7 L242.76 1075.29 L242.97 1074.87 L243.18 1074.46 L243.39 1074.06 L243.61 1073.65 L243.84 1073.24 L244.06 1072.83 L244.3 1072.43 L244.53 1072.02 L244.77 1071.61 L245.02 1071.21 L245.26 1070.81 L245.52 1070.4 L245.77 1070 L246.04 1069.6 L246.3 1069.2 L246.57 1068.8 L246.85 1068.4 L247.13 1068 L247.42 1067.61 L247.71 1067.21 L248.01 1066.82 L248.31 1066.42 L248.62 1066.03 L248.93 1065.63 L249.25 1065.24 L249.58 1064.85 L249.91 1064.46 L250.24 1064.07 L250.59 1063.68 L250.93 1063.29 L251.29 1062.9 L251.65 1062.52 L252.02 1062.13 L252.39 1061.75 L252.77 1061.36 L253.16 1060.98 L253.56 1060.59 L253.96 1060.21 L254.37 1059.83 L254.79 1059.45 L255.21 1059.07 L255.64 1058.69 L256.08 1058.32 L256.53 1057.94 L256.98 1057.56 L257.45 1057.19 L257.92 1056.82 L258.4 1056.44 L258.89 1056.07 L259.39 1055.7 L259.9 1055.33 L260.41 1054.96 L260.94 1054.59 L261.47 1054.22 L262.02 1053.85 L262.57 1053.49 L263.14 1053.12 L263.71 1052.76 L264.29 1052.39 L264.89 1052.03 L265.5 1051.67 L266.11 1051.31 L266.74 1050.95 L267.38 1050.59 L268.03 1050.23 L268.69 1049.87 L269.37 1049.51 L270.05 1049.16 L270.75 1048.8 L271.47 1048.45 L272.19 1048.1 L272.93 1047.75 L273.68 1047.39 L274.44 1047.04 L275.22 1046.69 L276.01 1046.35 L276.82 1046 L277.64 1045.65 L278.47 1045.31 L279.32 1044.96 L280.19 1044.62 L281.07 1044.27 L281.97 1043.93 L282.88 1043.59 L283.81 1043.25 L284.76 1042.91 L285.72 1042.57 L286.7 1042.23 L287.7 1041.9 L288.72 1041.56 L289.75 1041.23 L290.8 1040.89 L291.88 1040.56 L292.97 1040.23 L294.08 1039.9 L295.21 1039.57 L296.36 1039.24 L297.53 1038.91 L298.73 1038.58 L299.94 1038.25 L301.18 1037.93 L302.44 1037.6 L303.72 1037.28 L305.02 1036.96 L306.35 1036.63 L307.7 1036.31 L309.08 1035.99 L310.48 1035.67 L311.91 1035.36 L313.36 1035.04 L314.84 1034.72 L316.34 1034.41 L317.87 1034.09 L319.43 1033.78 L321.02 1033.46 L322.63 1033.15 L324.28 1032.84 L325.95 1032.53 L327.66 1032.22 L329.39 1031.91 L331.16 1031.61 L332.96 1031.3 L334.79 1031 L336.65 1030.69 L338.55 1030.39 L340.48 1030.09 L342.44 1029.78 L344.45 1029.48 L346.48 1029.18 L348.56 1028.88 L350.67 1028.59 L352.82 1028.29 L355 1027.99 L357.23 1027.7 L359.5 1027.4 L361.81 1027.11 L364.16 1026.82 L366.55 1026.53 L368.98 1026.24 L371.46 1025.95 L373.98 1025.66 L376.55 1025.37 L379.17 1025.08 L381.83 1024.8 L384.54 1024.51 L387.3 1024.23 L390.1 1023.94 L392.96 1023.66 L395.87 1023.38 L398.83 1023.1 L401.85 1022.82 L404.92 1022.54 L408.05 1022.26 L411.23 1021.99 L414.46 1021.71 L417.76 1021.44 L421.12 1021.16 L424.53 1020.89 L428.01 1020.62 L431.55 1020.35 L435.16 1020.08 L438.82 1019.81 L442.56 1019.54 L446.36 1019.27 L450.23 1019 L454.17 1018.74 L458.18 1018.47 L462.27 1018.21 L466.42 1017.94 L470.65 1017.68 L474.96 1017.42 L479.35 1017.16 L483.81 1016.9 L488.35 1016.64 L492.98 1016.38 L497.69 1016.13 L502.48 1015.87 L507.36 1015.62 L512.33 1015.36 L517.39 1015.11 L522.54 1014.86 L527.78 1014.6 L533.11 1014.35 L538.54 1014.1 L544.07 1013.85 L549.7 1013.61 L555.43 1013.36 L561.26 1013.11 L567.2 1012.87 L573.24 1012.62 L579.4 1012.38 L585.66 1012.14 L592.04 1011.89 L598.53 1011.65 L605.14 1011.41 L611.86 1011.17 L618.71 1010.93 L625.68 1010.7 L632.78 1010.46 L640 1010.22" fill="none" stroke="#1ed21e" stroke-width="1.6"/>
<path d="M234.25 1158.36 L234.29 1158.08 L234.32 1157.81 L234.36 1157.54 L234.4 1157.27 L234.44 1157 L234.48 1156.72 L234.52 1156.45 L234.56 1156.18 L234.6 1155.91 L234.65 1155.63 L234.69 1155.36 L234.73 1155.09 L234.77 1154.82 L234.82 1154.54 L234.86 1154.27 L234.91 1154 L234.95 1153.72 L235 1153.45 L235.05 1153.18 L235.09 1152.9 L235.14 1152.63 L235.19 1152.36 L235.24 1152.08 L235.29 1151.81 L235.34 1151.54 L235.39 1151.26 L235.44 1150.99 L235.5 1150.72 L235.55 1150.44 L235.6 1150.17 L235.66 1149.89 L235.71 1149.62 L235.77 1149.34 L235.82 1149.07 L235.88 1148.8 L235.94 1148.52 L236 1148.25 L236.06 1147.97 L236.11 1147.7 L236.18 1147.42 L236.24 1147.15 L236.3 1146.87 L236.36 1146.6 L236.43 1146.32 L236.49 1146.05 L236.55 1145.77 L236.62 1145.5 L236.69 1145.22 L236.76 1144.95 L236.82 1144.67 L236.89 1144.4 L236.96 1144.12 L237.03 1143.85 L237.11 1143.57 L237.18 1143.3 L237.25 1143.02 L237.33 1142.75 L237.4 1142.47 L237.48 1142.2 L237.56 1141.92 L237.63 1141.65 L237.71 1141.37 L237.79 1141.1 L237.88 1140.82 L237.96 1140.54 L238.04 1140.27 L238.13 1139.99 L238.21 1139.72 L238.3 1139.44 L238.38 1139.17 L238.47 1138.89 L238.56 1138.62 L238.65 1138.34 L238.75 1138.06 L238.84 1137.79 L238.93 1137.51 L239.03 1137.24 L239.12 1136.96 L239.22 1136.69 L239.32 1136.41 L239.42 1136.14 L239.52 1135.86 L239.62 1135.58 L239.73 1135.31 L239.83 1135.03 L239.94 1134.76 L240.05 1134.48 L240.16 1134.21 L240.27 1133.93 L240.38 1133.65 L240.49 1133.38 L240.61 1133.1 L240.72 1132.83 L240.84 1132.55 L240.96 1132.28 L241.08 1132 L241.2 1131.73 L241.32 1131.45 L241.45 1131.18 L241.57 1130.9 L241.7 1130.63 L241.83 1130.35 L241.96 1130.07 L242.09 1129.8 L242.23 1129.52 L242.36 1129.25 L242.5 1128.97 L242.64 1128.7 L242.78 1128.42 L242.93 1128.15 L243.07 1127.87 L243.22 1127.6 L243.36 1127.32 L243.51 1127.05 L243.67 1126.77 L243.82 1126.5 L243.97 1126.22 L244.13 1125.95 L244.29 1125.68 L244.45 1125.4 L244.62 1125.13 L244.78 1124.85 L244.95 1124.58 L245.12 1124.3 L245.29 1124.03 L245.46 1123.75 L245.64 1123.48 L245.82 1123.21 L246 1122.93 L246.18 1122.66 L246.36 1122.38 L246.55 1122.11 L246.74 1121.84 L246.93 1121.56 L247.13 1121.29 L247.32 1121.02 L247.52 1120.74 L247.72 1120.47 L247.93 1120.2 L248.13 1119.92 L248.34 1119.65 L248.55 1119.38 L248.76 1119.1 L248.98 1118.83 L249.2 1118.56 L249.42 1118.29 L249.65 1118.01 L249.87 1117.74 L250.1 1117.47 L250.34 1117.19 L250.57 1116.92 L250.81 1116.65 L251.05 1116.38 L251.3 1116.11 L251.55 1115.83 L251.8 1115.56 L252.05 1115.29 L252.31 1115.02 L252.57 1114.75 L252.83 1114.48 L253.1 1114.2 L253.37 1113.93 L253.64 1113.66 L253.92 1113.39 L254.2 1113.12 L254.48 1112.85 L254.77 1112.58 L255.06 1112.31 L255.35 1112.04 L255.65 1111.77 L255.95 1111.5 L256.25 1111.23 L256.56 1110.96 L256.88 1110.69 L257.19 1110.42 L257.51 1110.15 L257.84 1109.88 L258.16 1109.61 L258.5 1109.34 L258.83 1109.07 L259.17 1108.8 L259.52 1108.53 L259.87 1108.26 L260.22 1107.99 L260.58 1107.73 L260.94 1107.46 L261.31 1107.19 L261.68 1106.92 L262.05 1106.65 L262.43 1106.39 L262.82 1106.12 L263.21 1105.85 L263.6 1105.58 L264 1105.32 L264.41 1105.05 L264.81 1104.78 L265.23 1104.51 L265.65 1104.25 L266.07 1103.98 L266.5 1103.71 L266.94 1103.45 L267.38 1103.18 L267.82 1102.92 L268.27 1102.65 L268.73 1102.38 L269.19 1102.12 L269.66 1101.85 L270.14 1101.59 L270.62 1101.32 L271.1 1101.06 L271.59 1100.79 L272.09 1100.53 L272.59 1100.27 L273.1 1100 L273.62 1099.74 L274.14 1099.47 L274.67 1099.21 L275.21 1098.95 L275.75 1098.68 L276.3 1098.42 L276.86 1098.16 L277.42 1097.89 L277.99 1097.63 L278.56 1097.37 L279.15 1097.11 L279.74 1096.84 L280.34 1096.58 L280.94 1096.32 L281.55 1096.06 L282.17 1095.8 L282.8 1095.54 L283.44 1095.27 L284.08 1095.01 L284.73 1094.75 L285.39 1094.49 L286.06 1094.23 L286.74 1093.97 L287.42 1093.71 L288.11 1093.45 L288.82 1093.19 L289.53 1092.93 L290.24 1092.67 L290.97 1092.41 L291.71 1092.16 L292.45 1091.9 L293.21 1091.64 L293.97 1091.38 L294.75 1091.12 L295.53 1090.86 L296.32 1090.61 L297.12 1090.35 L297.94 1090.09 L298.76 1089.84 L299.59 1089.58 L300.43 1089.32 L301.29 1089.07 L302.15 1088.81 L303.02 1088.55 L303.91 1088.3 L304.81 1088.04 L305.71 1087.79 L306.63 1087.53 L307.56 1087.28 L308.5 1087.02 L309.45 1086.77 L310.42 1086.51 L311.39 1086.26 L312.38 1086.01 L313.38 1085.75 L314.4 1085.5 L315.42 1085.25 L316.46 1084.99 L317.51 1084.74 L318.57 1084.49 L319.65 1084.23 L320.74 1083.98 L321.84 1083.73 L322.96 1083.48 L324.09 1083.23 L325.23 1082.98 L326.39 1082.73 L327.57 1082.48 L328.75 1082.22 L329.95 1081.97 L331.17 1081.72 L332.4 1081.47 L333.65 1081.23 L334.91 1080.98 L336.19 1080.73 L337.48 1080.48 L338.79 1080.23 L340.12 1079.98 L341.46 1079.73 L342.82 1079.49 L344.2 1079.24 L345.59 1078.99 L347 1078.74 L348.42 1078.5 L349.87 1078.25 L351.33 1078 L352.81 1077.76 L354.31 1077.51 L355.83 1077.27 L357.36 1077.02 L358.92 1076.77 L360.49 1076.53 L362.08 1076.29 L363.7 1076.04 L365.33 1075.8 L366.98 1075.55 L368.65 1075.31 L370.35 1075.07 L372.06 1074.82 L373.8 1074.58 L375.56 1074.34 L377.33 1074.09 L379.13 1073.85 L380.96 1073.61 L382.8 1073.37 L384.67 1073.13 L386.56 1072.89 L388.48 1072.65 L390.41 1072.41 L392.38 1072.17 L394.36 1071.92 L396.37 1071.69 L398.41 1071.45 L400.47 1071.21 L402.55 1070.97 L404.66 1070.73 L406.8 1070.49 L408.97 1070.25 L411.16 1070.01 L413.37 1069.78 L415.62 1069.54 L417.89 1069.3 L420.19 1069.07 L422.52 1068.83 L424.88 1068.59 L427.26 1068.36 L429.68 1068.12 L432.13 1067.89 L434.6 1067.65 L437.11 1067.42 L439.64 1067.18 L442.21 1066.95 L444.81 1066.71 L447.44 1066.48 L450.11 1066.25 L452.81 1066.01 L455.54 1065.78 L458.3 1065.55 L461.1 1065.31 L463.93 1065.08 L466.8 1064.85 L469.7 1064.62 L472.64 1064.39 L475.62 1064.16 L478.63 1063.93 L481.68 1063.7 L484.76 1063.47 L487.89 1063.24 L491.05 1063.01 L494.25 1062.78 L497.49 1062.55 L500.78 1062.32 L504.1 1062.09 L507.46 1061.86 L510.86 1061.63 L514.31 1061.41 L517.8 1061.18 L521.33 1060.95 L524.9 1060.73 L528.52 1060.5 L532.19 1060.27 L535.9 1060.05 L539.65 1059.82 L543.45 1059.6 L547.3 1059.37 L551.19 1059.15 L555.14 1058.92 L559.13 1058.7 L563.17 1058.48 L567.26 1058.25 L571.4 1058.03 L575.59 1057.81 L579.83 1057.58 L584.13 1057.36 L588.48 1057.14 L592.88 1056.92 L597.34 1056.7 L601.85 1056.48 L606.42 1056.26 L611.04 1056.04 L615.72 1055.82 L620.46 1055.6 L625.25 1055.38 L630.11 1055.16 L635.02 1054.94 L640 1054.72" fill="none" stroke="#c41a1a" stroke-width="1.6"/>
<path d="M232.33 1194.37 L232.35 1194.01 L232.37 1193.65 L232.39 1193.29 L232.4 1192.93 L232.42 1192.58 L232.44 1192.22 L232.46 1191.86 L232.48 1191.5 L232.5 1191.14 L232.51 1190.77 L232.53 1190.41 L232.55 1190.05 L232.57 1189.69 L232.59 1189.32 L232.62 1188.96 L232.64 1188.6 L232.66 1188.23 L232.68 1187.87 L232.7 1187.5 L232.72 1187.13 L232.75 1186.77 L232.77 1186.4 L232.79 1186.03 L232.82 1185.66 L232.84 1185.3 L232.86 1184.93 L232.89 1184.56 L232.91 1184.19 L232.94 1183.82 L232.96 1183.45 L232.99 1183.08 L233.02 1182.71 L233.04 1182.33 L233.07 1181.96 L233.1 1181.59 L233.13 1181.22 L233.16 1180.84 L233.19 1180.47 L233.21 1180.09 L233.24 1179.72 L233.28 1179.34 L233.31 1178.97 L233.34 1178.59 L233.37 1178.22 L233.4 1177.84 L233.43 1177.46 L233.47 1177.09 L233.5 1176.71 L233.53 1176.33 L233.57 1175.95 L233.6 1175.57 L233.64 1175.19 L233.68 1174.82 L233.71 1174.44 L233.75 1174.05 L233.79 1173.67 L233.83 1173.29 L233.86 1172.91 L233.9 1172.53 L233.94 1172.15 L233.99 1171.77 L234.03 1171.38 L234.07 1171 L234.11 1170.62 L234.15 1170.23 L234.2 1169.85 L234.24 1169.47 L234.29 1169.08 L234.33 1168.7 L234.38 1168.31 L234.43 1167.93 L234.47 1167.54 L234.52 1167.15 L234.57 1166.77 L234.62 1166.38 L234.67 1166 L234.72 1165.61 L234.78 1165.22 L234.83 1164.83 L234.88 1164.44 L234.94 1164.06 L234.99 1163.67 L235.05 1163.28 L235.11 1162.89 L235.17 1162.5 L235.22 1162.11 L235.28 1161.72 L235.34 1161.33 L235.41 1160.94 L235.47 1160.55 L235.53 1160.16 L235.6 1159.77 L235.66 1159.38 L235.73 1158.99 L235.79 1158.6 L235.86 1158.2 L235.93 1157.81 L236 1157.42 L236.07 1157.03 L236.14 1156.64 L236.22 1156.24 L236.29 1155.85 L236.37 1155.46 L236.44 1155.06 L236.52 1154.67 L236.6 1154.28 L236.68 1153.88 L236.76 1153.49 L236.84 1153.1 L236.93 1152.7 L237.01 1152.31 L237.1 1151.91 L237.19 1151.52 L237.28 1151.12 L237.37 1150.73 L237.46 1150.33 L237.55 1149.94 L237.64 1149.54 L237.74 1149.15 L237.84 1148.75 L237.93 1148.35 L238.03 1147.96 L238.14 1147.56 L238.24 1147.17 L238.34 1146.77 L238.45 1146.37 L238.56 1145.98 L238.67 1145.58 L238.78 1145.18 L238.89 1144.79 L239 1144.39 L239.12 1143.99 L239.24 1143.6 L239.35 1143.2 L239.48 1142.8 L239.6 1142.41 L239.72 1142.01 L239.85 1141.61 L239.98 1141.22 L240.11 1140.82 L240.24 1140.42 L240.37 1140.02 L240.51 1139.63 L240.65 1139.23 L240.79 1138.83 L240.93 1138.43 L241.07 1138.04 L241.22 1137.64 L241.37 1137.24 L241.52 1136.84 L241.67 1136.45 L241.83 1136.05 L241.99 1135.65 L242.15 1135.25 L242.31 1134.86 L242.47 1134.46 L242.64 1134.06 L242.81 1133.67 L242.98 1133.27 L243.16 1132.87 L243.33 1132.47 L243.51 1132.08 L243.7 1131.68 L243.88 1131.28 L244.07 1130.88 L244.26 1130.49 L244.45 1130.09 L244.65 1129.69 L244.85 1129.3 L245.05 1128.9 L245.26 1128.5 L245.47 1128.11 L245.68 1127.71 L245.89 1127.31 L246.11 1126.92 L246.33 1126.52 L246.55 1126.13 L246.78 1125.73 L247.01 1125.33 L247.25 1124.94 L247.49 1124.54 L247.73 1124.15 L247.97 1123.75 L248.22 1123.36 L248.47 1122.96 L248.73 1122.57 L248.99 1122.17 L249.25 1121.78 L249.52 1121.38 L249.79 1120.99 L250.07 1120.59 L250.35 1120.2 L250.63 1119.8 L250.92 1119.41 L251.21 1119.02 L251.51 1118.62 L251.81 1118.23 L252.12 1117.84 L252.43 1117.44 L252.74 1117.05 L253.06 1116.66 L253.38 1116.27 L253.71 1115.87 L254.05 1115.48 L254.38 1115.09 L254.73 1114.7 L255.08 1114.31 L255.43 1113.92 L255.79 1113.52 L256.16 1113.13 L256.53 1112.74 L256.9 1112.35 L257.28 1111.96 L257.67 1111.57 L258.06 1111.18 L258.46 1110.79 L258.86 1110.41 L259.27 1110.02 L259.69 1109.63 L260.11 1109.24 L260.54 1108.85 L260.98 1108.46 L261.42 1108.08 L261.86 1107.69 L262.32 1107.3 L262.78 1106.92 L263.25 1106.53 L263.72 1106.14 L264.21 1105.76 L264.7 1105.37 L265.19 1104.99 L265.7 1104.6 L266.21 1104.22 L266.73 1103.83 L267.25 1103.45 L267.79 1103.06 L268.33 1102.68 L268.88 1102.3 L269.44 1101.92 L270.01 1101.53 L270.58 1101.15 L271.17 1100.77 L271.76 1100.39 L272.36 1100.01 L272.97 1099.63 L273.59 1099.25 L274.22 1098.87 L274.85 1098.49 L275.5 1098.11 L276.16 1097.73 L276.83 1097.35 L277.5 1096.97 L278.19 1096.59 L278.88 1096.22 L279.59 1095.84 L280.31 1095.46 L281.04 1095.09 L281.78 1094.71 L282.53 1094.33 L283.29 1093.96 L284.06 1093.58 L284.84 1093.21 L285.64 1092.84 L286.44 1092.46 L287.26 1092.09 L288.1 1091.72 L288.94 1091.34 L289.79 1090.97 L290.66 1090.6 L291.54 1090.23 L292.44 1089.86 L293.35 1089.49 L294.27 1089.12 L295.2 1088.75 L296.15 1088.38 L297.12 1088.01 L298.09 1087.64 L299.08 1087.27 L300.09 1086.91 L301.11 1086.54 L302.15 1086.17 L303.2 1085.81 L304.27 1085.44 L305.35 1085.08 L306.45 1084.71 L307.57 1084.35 L308.7 1083.99 L309.85 1083.62 L311.01 1083.26 L312.2 1082.9 L313.4 1082.54 L314.62 1082.18 L315.85 1081.81 L317.11 1081.45 L318.38 1081.09 L319.67 1080.74 L320.99 1080.38 L322.32 1080.02 L323.67 1079.66 L325.04 1079.3 L326.43 1078.95 L327.84 1078.59 L329.27 1078.24 L330.73 1077.88 L332.2 1077.53 L333.7 1077.17 L335.22 1076.82 L336.76 1076.46 L338.33 1076.11 L339.92 1075.76 L341.53 1075.41 L343.16 1075.06 L344.82 1074.71 L346.51 1074.36 L348.22 1074.01 L349.95 1073.66 L351.71 1073.31 L353.5 1072.96 L355.31 1072.61 L357.15 1072.27 L359.02 1071.92 L360.91 1071.58 L362.84 1071.23 L364.79 1070.89 L366.77 1070.54 L368.78 1070.2 L370.82 1069.86 L372.89 1069.51 L374.99 1069.17 L377.12 1068.83 L379.28 1068.49 L381.48 1068.15 L383.71 1067.81 L385.97 1067.47 L388.26 1067.13 L390.59 1066.8 L392.96 1066.46 L395.35 1066.12 L397.79 1065.79 L400.26 1065.45 L402.76 1065.12 L405.31 1064.78 L407.89 1064.45 L410.51 1064.11 L413.17 1063.78 L415.86 1063.45 L418.6 1063.12 L421.38 1062.79 L424.2 1062.46 L427.06 1062.13 L429.96 1061.8 L432.91 1061.47 L435.9 1061.14 L438.94 1060.82 L442.02 1060.49 L445.14 1060.16 L448.31 1059.84 L451.53 1059.51 L454.8 1059.19 L458.11 1058.87 L461.48 1058.54 L464.89 1058.22 L468.36 1057.9 L471.87 1057.58 L475.44 1057.26 L479.06 1056.94 L482.73 1056.62 L486.46 1056.3 L490.25 1055.98 L494.09 1055.67 L497.99 1055.35 L501.94 1055.03 L505.95 1054.72 L510.03 1054.4 L514.16 1054.09 L518.36 1053.78 L522.61 1053.46 L526.93 1053.15 L531.32 1052.84 L535.77 1052.53 L540.28 1052.22 L544.87 1051.91 L549.52 1051.6 L554.24 1051.29 L559.02 1050.99 L563.88 1050.68 L568.82 1050.37 L573.82 1050.07 L578.9 1049.76 L584.06 1049.46 L589.29 1049.15 L594.6 1048.85 L599.98 1048.55 L605.45 1048.25 L611 1047.95 L616.63 1047.65 L622.34 1047.35 L628.14 1047.05 L634.03 1046.75 L640 1046.45" fill="none" stroke="#1a1ab4" stroke-width="1.6"/>
<path d="M237.13 1304.12 L233.66 1307.59 L228.76 1307.59 L225.3 1304.12 L225.3 1299.23 L228.76 1295.76 L233.66 1295.76 L237.13 1299.23Z" fill="none" stroke="#1a1ab4" stroke-width="1.9"/>
<rect x="230.51" y="1300.98" width="1.4" height="1.4" fill="#000"/>
<path d="M237.25 1223.1 L233.79 1226.57 L228.89 1226.57 L225.42 1223.1 L225.42 1218.2 L228.89 1214.74 L233.79 1214.74 L237.25 1218.2Z" fill="none" stroke="#1a1ab4" stroke-width="1.9"/>
<rect x="230.64" y="1219.95" width="1.4" height="1.4" fill="#000"/>
<path d="M238.48 1201.86 L235.01 1205.32 L230.11 1205.32 L226.65 1201.86 L226.65 1196.96 L230.11 1193.49 L235.01 1193.49 L238.48 1196.96Z" fill="none" stroke="#1a1ab4" stroke-width="1.9"/>
<rect x="231.86" y="1198.71" width="1.4" height="1.4" fill="#000"/>
<path d="M250.74 1091.31 L247.28 1094.77 L242.38 1094.77 L238.91 1091.31 L238.91 1086.41 L242.38 1082.94 L247.28 1082.94 L250.74 1086.41Z" fill="none" stroke="#1a1ab4" stroke-width="1.9"/>
<rect x="244.13" y="1088.16" width="1.4" height="1.4" fill="#000"/>
<path d="M373.38 1069.7 L369.92 1073.16 L365.02 1073.16 L361.55 1069.7 L361.55 1064.8 L365.02 1061.34 L369.92 1061.34 L373.38 1064.8Z" fill="none" stroke="#1a1ab4" stroke-width="1.9"/>
<rect x="366.77" y="1066.55" width="1.4" height="1.4" fill="#000"/>
<rect x="224.91" y="1270.17" width="12.6" height="12.6" fill="none" stroke="#c41a1a" stroke-width="1.9"/>
<rect x="230.51" y="1275.77" width="1.4" height="1.4" fill="#000"/>
<rect x="225.04" y="1196.71" width="12.6" height="12.6" fill="none" stroke="#c41a1a" stroke-width="1.9"/>
<rect x="230.64" y="1202.31" width="1.4" height="1.4" fill="#000"/>
<rect x="226.26" y="1146.29" width="12.6" height="12.6" fill="none" stroke="#c41a1a" stroke-width="1.9"/>
<rect x="231.86" y="1151.89" width="1.4" height="1.4" fill="#000"/>
<rect x="238.53" y="1110.28" width="12.6" height="12.6" fill="none" stroke="#c41a1a" stroke-width="1.9"/>
<rect x="244.13" y="1115.88" width="1.4" height="1.4" fill="#000"/>
<rect x="361.17" y="1096.96" width="12.6" height="12.6" fill="none" stroke="#c41a1a" stroke-width="1.9"/>
<rect x="366.77" y="1102.56" width="1.4" height="1.4" fill="#000"/>
<path d="M224.73 1267.52 L237.73 1267.52 L231.23 1254.71Z" fill="none" stroke="#1ed21e" stroke-width="1.9"/>
<rect x="230.53" y="1261.84" width="1.4" height="1.4" fill="#000"/>
<path d="M224.97 1172.81 L237.97 1172.81 L231.47 1160.01Z" fill="none" stroke="#1ed21e" stroke-width="1.9"/>
<rect x="230.77" y="1167.14" width="1.4" height="1.4" fill="#000"/>
<path d="M227.43 1069.82 L240.43 1069.82 L233.93 1057.02Z" fill="none" stroke="#1ed21e" stroke-width="1.9"/>
<rect x="233.23" y="1064.15" width="1.4" height="1.4" fill="#000"/>
<path d="M251.95 1046.42 L264.95 1046.42 L258.45 1033.61Z" fill="none" stroke="#1ed21e" stroke-width="1.9"/>
<rect x="257.75" y="1040.74" width="1.4" height="1.4" fill="#000"/>
<path d="M497.23 1054.34 L510.23 1054.34 L503.73 1041.54Z" fill="none" stroke="#1ed21e" stroke-width="1.9"/>
<rect x="503.03" y="1048.67" width="1.4" height="1.4" fill="#000"/>
<line x1="231.2" y1="956.1" x2="231.2" y2="1317.6" stroke="#000" stroke-width="1.6"/>
<line x1="230.4" y1="1316.8" x2="640.8" y2="1316.8" stroke="#000" stroke-width="1.6"/>
<line x1="231.2" y1="1280.79" x2="236" y2="1280.79" stroke="#000" stroke-width="1.6"/>
<line x1="231.2" y1="1244.78" x2="236" y2="1244.78" stroke="#000" stroke-width="1.6"/>
<line x1="231.2" y1="1208.77" x2="236" y2="1208.77" stroke="#000" stroke-width="1.6"/>
<line x1="231.2" y1="1172.76" x2="236" y2="1172.76" stroke="#000" stroke-width="1.6"/>
<line x1="231.2" y1="1136.75" x2="236" y2="1136.75" stroke="#000" stroke-width="1.6"/>
<line x1="231.2" y1="1100.74" x2="236" y2="1100.74" stroke="#000" stroke-width="1.6"/>
<line x1="231.2" y1="1064.73" x2="236" y2="1064.73" stroke="#000" stroke-width="1.6"/>
<line x1="231.2" y1="1028.72" x2="236" y2="1028.72" stroke="#000" stroke-width="1.6"/>
<line x1="231.2" y1="992.71" x2="236" y2="992.71" stroke="#000" stroke-width="1.6"/>
<line x1="231.2" y1="956.7" x2="236" y2="956.7" stroke="#000" stroke-width="1.6"/>
<line x1="299.33" y1="1316.8" x2="299.33" y2="1312" stroke="#000" stroke-width="1.6"/>
<line x1="367.47" y1="1316.8" x2="367.47" y2="1312" stroke="#000" stroke-width="1.6"/>
<line x1="435.6" y1="1316.8" x2="435.6" y2="1312" stroke="#000" stroke-width="1.6"/>
<line x1="503.73" y1="1316.8" x2="503.73" y2="1312" stroke="#000" stroke-width="1.6"/>
<line x1="571.87" y1="1316.8" x2="571.87" y2="1312" stroke="#000" stroke-width="1.6"/>
<line x1="640" y1="1316.8" x2="640" y2="1312" stroke="#000" stroke-width="1.6"/>
<text x="222.5" y="972.4" font-size="26" text-anchor="end">1</text>
<text x="222.3" y="1148.05" font-size="26" text-anchor="end">0.5</text>
<text x="225" y="1322.7" font-size="26" text-anchor="end">0</text>
<text x="235" y="1344.4" font-size="26" text-anchor="middle">0</text>
<text x="640" y="1341.6" font-size="26" text-anchor="middle">30</text>
<text x="136" y="1146.95" font-size="26" font-weight="bold" textLength="29.4" lengthAdjust="spacingAndGlyphs">Fa</text>
<text x="433.4" y="1349.1" font-size="25" text-anchor="middle" font-weight="bold" textLength="124" lengthAdjust="spacingAndGlyphs">Dose (<tspan font-weight="normal" font-family="'Liberation Serif', serif">μ</tspan>M)</text>
<text x="362.5" y="1234.8" font-size="26">(</text>
<text x="385" y="1234.8" font-size="26">)</text>
<path d="M383.61 1228.45 L380.15 1231.91 L375.25 1231.91 L371.79 1228.45 L371.79 1223.55 L375.25 1220.09 L380.15 1220.09 L383.61 1223.55Z" fill="none" stroke="#1a1ab4" stroke-width="1.9"/>
<rect x="377" y="1225.3" width="1.4" height="1.4" fill="#000"/>
<text x="397.2" y="1234.8" font-size="26" textLength="111.7" lengthAdjust="spacingAndGlyphs">AZD2014</text>
<text x="362.5" y="1266.4" font-size="26">(</text>
<text x="385" y="1266.4" font-size="26">)</text>
<rect x="371.4" y="1250.3" width="12.6" height="12.6" fill="none" stroke="#c41a1a" stroke-width="1.9"/>
<rect x="377" y="1255.9" width="1.4" height="1.4" fill="#000"/>
<text x="397.2" y="1266.4" font-size="26" textLength="110.5" lengthAdjust="spacingAndGlyphs">Dasatinib</text>
<text x="362.5" y="1298" font-size="26">(</text>
<text x="385" y="1298" font-size="26">)</text>
<path d="M371.8 1294.67 L384.8 1294.67 L378.3 1281.87Z" fill="none" stroke="#1ed21e" stroke-width="1.9"/>
<text x="397.2" y="1298" font-size="26" textLength="240.3" lengthAdjust="spacingAndGlyphs">AZD2014+Dasatinib</text>
<path d="M232.12 1761.27 L232.13 1760.74 L232.15 1760.2 L232.17 1759.66 L232.18 1759.11 L232.2 1758.56 L232.22 1758.01 L232.24 1757.46 L232.26 1756.9 L232.27 1756.34 L232.29 1755.77 L232.31 1755.2 L232.33 1754.63 L232.35 1754.05 L232.37 1753.47 L232.39 1752.89 L232.41 1752.3 L232.43 1751.71 L232.45 1751.12 L232.48 1750.52 L232.5 1749.92 L232.52 1749.32 L232.54 1748.71 L232.57 1748.1 L232.59 1747.49 L232.61 1746.87 L232.64 1746.25 L232.66 1745.62 L232.69 1744.99 L232.71 1744.36 L232.74 1743.73 L232.76 1743.09 L232.79 1742.45 L232.82 1741.8 L232.84 1741.15 L232.87 1740.5 L232.9 1739.84 L232.93 1739.18 L232.95 1738.52 L232.98 1737.85 L233.01 1737.19 L233.04 1736.51 L233.07 1735.84 L233.1 1735.16 L233.14 1734.47 L233.17 1733.79 L233.2 1733.1 L233.23 1732.4 L233.27 1731.71 L233.3 1731.01 L233.33 1730.3 L233.37 1729.59 L233.4 1728.88 L233.44 1728.17 L233.48 1727.45 L233.51 1726.74 L233.55 1726.01 L233.59 1725.29 L233.63 1724.56 L233.67 1723.82 L233.7 1723.09 L233.74 1722.35 L233.79 1721.61 L233.83 1720.86 L233.87 1720.11 L233.91 1719.36 L233.96 1718.61 L234 1717.85 L234.04 1717.09 L234.09 1716.32 L234.13 1715.56 L234.18 1714.79 L234.23 1714.01 L234.28 1713.24 L234.33 1712.46 L234.38 1711.68 L234.43 1710.89 L234.48 1710.11 L234.53 1709.32 L234.58 1708.53 L234.63 1707.73 L234.69 1706.93 L234.74 1706.13 L234.8 1705.33 L234.85 1704.52 L234.91 1703.71 L234.97 1702.9 L235.03 1702.09 L235.09 1701.27 L235.15 1700.45 L235.21 1699.63 L235.27 1698.8 L235.34 1697.98 L235.4 1697.15 L235.47 1696.32 L235.53 1695.48 L235.6 1694.65 L235.67 1693.81 L235.74 1692.97 L235.81 1692.13 L235.88 1691.28 L235.95 1690.44 L236.03 1689.59 L236.1 1688.74 L236.18 1687.88 L236.26 1687.03 L236.33 1686.17 L236.41 1685.31 L236.49 1684.45 L236.58 1683.59 L236.66 1682.72 L236.74 1681.86 L236.83 1680.99 L236.91 1680.12 L237 1679.25 L237.09 1678.38 L237.18 1677.5 L237.27 1676.63 L237.37 1675.75 L237.46 1674.87 L237.56 1673.99 L237.66 1673.11 L237.76 1672.22 L237.86 1671.34 L237.96 1670.46 L238.06 1669.57 L238.17 1668.68 L238.27 1667.79 L238.38 1666.9 L238.49 1666.01 L238.6 1665.12 L238.72 1664.23 L238.83 1663.33 L238.95 1662.44 L239.06 1661.54 L239.18 1660.64 L239.31 1659.75 L239.43 1658.85 L239.56 1657.95 L239.68 1657.05 L239.81 1656.15 L239.94 1655.25 L240.08 1654.35 L240.21 1653.45 L240.35 1652.55 L240.49 1651.65 L240.63 1650.75 L240.77 1649.84 L240.92 1648.94 L241.06 1648.04 L241.21 1647.14 L241.37 1646.24 L241.52 1645.33 L241.68 1644.43 L241.83 1643.53 L242 1642.63 L242.16 1641.72 L242.33 1640.82 L242.49 1639.92 L242.67 1639.02 L242.84 1638.12 L243.01 1637.22 L243.19 1636.32 L243.37 1635.42 L243.56 1634.52 L243.75 1633.62 L243.94 1632.72 L244.13 1631.83 L244.32 1630.93 L244.52 1630.03 L244.72 1629.14 L244.93 1628.24 L245.13 1627.35 L245.34 1626.46 L245.56 1625.57 L245.77 1624.68 L245.99 1623.79 L246.22 1622.9 L246.44 1622.01 L246.67 1621.13 L246.91 1620.24 L247.14 1619.36 L247.38 1618.48 L247.63 1617.6 L247.87 1616.72 L248.12 1615.84 L248.38 1614.97 L248.64 1614.09 L248.9 1613.22 L249.17 1612.35 L249.44 1611.48 L249.71 1610.61 L249.99 1609.74 L250.27 1608.88 L250.56 1608.02 L250.85 1607.15 L251.14 1606.3 L251.44 1605.44 L251.75 1604.58 L252.06 1603.73 L252.37 1602.88 L252.69 1602.03 L253.01 1601.18 L253.34 1600.34 L253.67 1599.5 L254.01 1598.65 L254.35 1597.82 L254.69 1596.98 L255.05 1596.15 L255.41 1595.32 L255.77 1594.49 L256.14 1593.66 L256.51 1592.84 L256.89 1592.01 L257.27 1591.19 L257.67 1590.38 L258.06 1589.56 L258.46 1588.75 L258.87 1587.94 L259.29 1587.14 L259.71 1586.33 L260.14 1585.53 L260.57 1584.73 L261.01 1583.94 L261.45 1583.14 L261.91 1582.35 L262.37 1581.57 L262.83 1580.78 L263.31 1580 L263.79 1579.22 L264.28 1578.45 L264.77 1577.67 L265.27 1576.9 L265.78 1576.14 L266.3 1575.37 L266.83 1574.61 L267.36 1573.85 L267.9 1573.1 L268.45 1572.35 L269 1571.6 L269.57 1570.85 L270.14 1570.11 L270.73 1569.37 L271.32 1568.63 L271.92 1567.9 L272.52 1567.17 L273.14 1566.44 L273.77 1565.72 L274.41 1565 L275.05 1564.28 L275.71 1563.57 L276.37 1562.86 L277.05 1562.15 L277.73 1561.45 L278.43 1560.75 L279.13 1560.05 L279.85 1559.36 L280.57 1558.67 L281.31 1557.98 L282.06 1557.3 L282.82 1556.62 L283.59 1555.94 L284.37 1555.27 L285.17 1554.6 L285.97 1553.93 L286.79 1553.27 L287.62 1552.61 L288.46 1551.95 L289.31 1551.3 L290.18 1550.65 L291.06 1550 L291.96 1549.36 L292.86 1548.72 L293.78 1548.09 L294.72 1547.45 L295.66 1546.83 L296.63 1546.2 L297.6 1545.58 L298.59 1544.96 L299.6 1544.35 L300.62 1543.74 L301.65 1543.13 L302.7 1542.52 L303.77 1541.92 L304.85 1541.33 L305.95 1540.73 L307.07 1540.14 L308.2 1539.55 L309.35 1538.97 L310.51 1538.39 L311.69 1537.82 L312.89 1537.24 L314.11 1536.67 L315.35 1536.11 L316.6 1535.54 L317.88 1534.99 L319.17 1534.43 L320.48 1533.88 L321.81 1533.33 L323.16 1532.78 L324.53 1532.24 L325.92 1531.7 L327.33 1531.17 L328.77 1530.64 L330.22 1530.11 L331.7 1529.59 L333.2 1529.06 L334.72 1528.55 L336.26 1528.03 L337.82 1527.52 L339.41 1527.01 L341.02 1526.51 L342.66 1526.01 L344.32 1525.51 L346.01 1525.02 L347.72 1524.53 L349.45 1524.04 L351.22 1523.55 L353 1523.07 L354.82 1522.6 L356.66 1522.12 L358.53 1521.65 L360.43 1521.18 L362.35 1520.72 L364.3 1520.26 L366.29 1519.8 L368.3 1519.34 L370.34 1518.89 L372.41 1518.44 L374.52 1518 L376.65 1517.56 L378.82 1517.12 L381.02 1516.68 L383.25 1516.25 L385.51 1515.82 L387.81 1515.39 L390.14 1514.97 L392.51 1514.55 L394.91 1514.13 L397.35 1513.72 L399.82 1513.31 L402.34 1512.9 L404.88 1512.49 L407.47 1512.09 L410.09 1511.69 L412.76 1511.3 L415.46 1510.9 L418.21 1510.51 L420.99 1510.13 L423.82 1509.74 L426.68 1509.36 L429.59 1508.98 L432.55 1508.61 L435.55 1508.24 L438.59 1507.87 L441.68 1507.5 L444.81 1507.13 L447.99 1506.77 L451.22 1506.41 L454.49 1506.06 L457.82 1505.71 L461.19 1505.36 L464.61 1505.01 L468.09 1504.66 L471.61 1504.32 L475.19 1503.98 L478.82 1503.65 L482.51 1503.31 L486.25 1502.98 L490.05 1502.65 L493.9 1502.33 L497.81 1502 L501.78 1501.68 L505.81 1501.36 L509.89 1501.05 L514.04 1500.74 L518.25 1500.43 L522.52 1500.12 L526.86 1499.81 L531.26 1499.51 L535.73 1499.21 L540.26 1498.91 L544.86 1498.61 L549.53 1498.32 L554.26 1498.03 L559.07 1497.74 L563.95 1497.46 L568.9 1497.17 L573.93 1496.89 L579.03 1496.61 L584.21 1496.34 L589.46 1496.06 L594.79 1495.79 L600.2 1495.52 L605.69 1495.25 L611.27 1494.99 L616.92 1494.72 L622.66 1494.46 L628.49 1494.2 L634.4 1493.95 L640.4 1493.69" fill="none" stroke="#1ed21e" stroke-width="1.6"/>
<path d="M232.51 1782.85 L232.53 1782.54 L232.55 1782.24 L232.57 1781.93 L232.59 1781.62 L232.62 1781.31 L232.64 1780.99 L232.66 1780.68 L232.69 1780.36 L232.71 1780.04 L232.73 1779.72 L232.76 1779.4 L232.78 1779.07 L232.81 1778.75 L232.83 1778.42 L232.86 1778.09 L232.89 1777.76 L232.91 1777.42 L232.94 1777.08 L232.97 1776.75 L232.99 1776.4 L233.02 1776.06 L233.05 1775.72 L233.08 1775.37 L233.11 1775.02 L233.14 1774.67 L233.17 1774.32 L233.2 1773.97 L233.23 1773.61 L233.26 1773.25 L233.29 1772.89 L233.33 1772.53 L233.36 1772.16 L233.39 1771.8 L233.43 1771.43 L233.46 1771.06 L233.5 1770.68 L233.53 1770.31 L233.57 1769.93 L233.6 1769.55 L233.64 1769.17 L233.68 1768.79 L233.71 1768.4 L233.75 1768.02 L233.79 1767.63 L233.83 1767.24 L233.87 1766.84 L233.91 1766.45 L233.95 1766.05 L233.99 1765.65 L234.04 1765.25 L234.08 1764.84 L234.12 1764.44 L234.17 1764.03 L234.21 1763.62 L234.26 1763.2 L234.3 1762.79 L234.35 1762.37 L234.4 1761.95 L234.44 1761.53 L234.49 1761.11 L234.54 1760.68 L234.59 1760.25 L234.64 1759.82 L234.69 1759.39 L234.75 1758.96 L234.8 1758.52 L234.85 1758.08 L234.91 1757.64 L234.96 1757.2 L235.02 1756.75 L235.07 1756.3 L235.13 1755.85 L235.19 1755.4 L235.25 1754.95 L235.31 1754.49 L235.37 1754.03 L235.43 1753.57 L235.49 1753.11 L235.56 1752.64 L235.62 1752.17 L235.69 1751.7 L235.75 1751.23 L235.82 1750.76 L235.89 1750.28 L235.96 1749.8 L236.03 1749.32 L236.1 1748.84 L236.17 1748.35 L236.24 1747.87 L236.32 1747.38 L236.39 1746.89 L236.47 1746.39 L236.55 1745.9 L236.62 1745.4 L236.7 1744.9 L236.78 1744.39 L236.87 1743.89 L236.95 1743.38 L237.03 1742.87 L237.12 1742.36 L237.2 1741.85 L237.29 1741.33 L237.38 1740.81 L237.47 1740.29 L237.56 1739.77 L237.65 1739.25 L237.75 1738.72 L237.84 1738.19 L237.94 1737.66 L238.04 1737.13 L238.14 1736.59 L238.24 1736.05 L238.34 1735.51 L238.44 1734.97 L238.55 1734.43 L238.65 1733.88 L238.76 1733.33 L238.87 1732.78 L238.98 1732.23 L239.1 1731.68 L239.21 1731.12 L239.33 1730.56 L239.44 1730 L239.56 1729.44 L239.68 1728.87 L239.81 1728.3 L239.93 1727.73 L240.06 1727.16 L240.18 1726.59 L240.31 1726.01 L240.45 1725.44 L240.58 1724.86 L240.71 1724.27 L240.85 1723.69 L240.99 1723.11 L241.13 1722.52 L241.27 1721.93 L241.42 1721.34 L241.57 1720.74 L241.71 1720.15 L241.87 1719.55 L242.02 1718.95 L242.17 1718.35 L242.33 1717.75 L242.49 1717.14 L242.65 1716.53 L242.82 1715.92 L242.99 1715.31 L243.15 1714.7 L243.33 1714.09 L243.5 1713.47 L243.68 1712.85 L243.86 1712.23 L244.04 1711.61 L244.22 1710.98 L244.41 1710.36 L244.6 1709.73 L244.79 1709.1 L244.98 1708.47 L245.18 1707.84 L245.38 1707.2 L245.58 1706.57 L245.79 1705.93 L246 1705.29 L246.21 1704.65 L246.42 1704.01 L246.64 1703.36 L246.86 1702.71 L247.09 1702.07 L247.31 1701.42 L247.54 1700.77 L247.78 1700.11 L248.01 1699.46 L248.25 1698.8 L248.5 1698.15 L248.74 1697.49 L248.99 1696.83 L249.25 1696.17 L249.51 1695.5 L249.77 1694.84 L250.03 1694.17 L250.3 1693.5 L250.57 1692.83 L250.85 1692.16 L251.13 1691.49 L251.41 1690.82 L251.7 1690.14 L251.99 1689.47 L252.29 1688.79 L252.59 1688.11 L252.89 1687.43 L253.2 1686.75 L253.52 1686.07 L253.83 1685.39 L254.16 1684.7 L254.48 1684.02 L254.81 1683.33 L255.15 1682.64 L255.49 1681.95 L255.84 1681.26 L256.19 1680.57 L256.54 1679.88 L256.9 1679.19 L257.27 1678.49 L257.64 1677.8 L258.02 1677.1 L258.4 1676.4 L258.78 1675.71 L259.18 1675.01 L259.57 1674.31 L259.98 1673.61 L260.38 1672.9 L260.8 1672.2 L261.22 1671.5 L261.65 1670.79 L262.08 1670.09 L262.52 1669.38 L262.96 1668.68 L263.41 1667.97 L263.87 1667.26 L264.33 1666.55 L264.8 1665.84 L265.28 1665.13 L265.77 1664.42 L266.26 1663.71 L266.75 1663 L267.26 1662.29 L267.77 1661.58 L268.29 1660.86 L268.81 1660.15 L269.35 1659.44 L269.89 1658.72 L270.44 1658.01 L270.99 1657.29 L271.56 1656.58 L272.13 1655.86 L272.71 1655.14 L273.3 1654.43 L273.9 1653.71 L274.5 1653 L275.12 1652.28 L275.74 1651.56 L276.37 1650.84 L277.01 1650.13 L277.66 1649.41 L278.32 1648.69 L278.99 1647.97 L279.66 1647.25 L280.35 1646.54 L281.05 1645.82 L281.75 1645.1 L282.47 1644.38 L283.19 1643.66 L283.93 1642.95 L284.68 1642.23 L285.43 1641.51 L286.2 1640.79 L286.98 1640.08 L287.77 1639.36 L288.57 1638.64 L289.38 1637.93 L290.21 1637.21 L291.04 1636.49 L291.89 1635.78 L292.75 1635.06 L293.62 1634.35 L294.51 1633.63 L295.4 1632.92 L296.31 1632.2 L297.23 1631.49 L298.17 1630.78 L299.11 1630.07 L300.08 1629.35 L301.05 1628.64 L302.04 1627.93 L303.04 1627.22 L304.06 1626.51 L305.09 1625.8 L306.13 1625.09 L307.19 1624.39 L308.27 1623.68 L309.36 1622.97 L310.46 1622.27 L311.59 1621.56 L312.72 1620.86 L313.88 1620.15 L315.05 1619.45 L316.23 1618.75 L317.43 1618.05 L318.65 1617.35 L319.89 1616.65 L321.15 1615.95 L322.42 1615.26 L323.71 1614.56 L325.02 1613.86 L326.34 1613.17 L327.69 1612.48 L329.05 1611.78 L330.44 1611.09 L331.84 1610.4 L333.26 1609.71 L334.7 1609.03 L336.17 1608.34 L337.65 1607.65 L339.16 1606.97 L340.68 1606.29 L342.23 1605.6 L343.8 1604.92 L345.39 1604.24 L347.01 1603.57 L348.64 1602.89 L350.3 1602.21 L351.99 1601.54 L353.69 1600.87 L355.42 1600.19 L357.18 1599.52 L358.96 1598.85 L360.77 1598.19 L362.6 1597.52 L364.45 1596.86 L366.34 1596.19 L368.25 1595.53 L370.18 1594.87 L372.15 1594.21 L374.14 1593.55 L376.16 1592.9 L378.21 1592.25 L380.28 1591.59 L382.39 1590.94 L384.53 1590.29 L386.69 1589.64 L388.89 1589 L391.12 1588.35 L393.38 1587.71 L395.67 1587.07 L397.99 1586.43 L400.35 1585.79 L402.74 1585.16 L405.16 1584.52 L407.62 1583.89 L410.11 1583.26 L412.64 1582.63 L415.2 1582 L417.8 1581.38 L420.43 1580.75 L423.11 1580.13 L425.82 1579.51 L428.57 1578.89 L431.36 1578.28 L434.18 1577.66 L437.05 1577.05 L439.96 1576.44 L442.91 1575.83 L445.9 1575.22 L448.93 1574.62 L452 1574.01 L455.12 1573.41 L458.28 1572.81 L461.49 1572.21 L464.74 1571.62 L468.04 1571.03 L471.39 1570.43 L474.78 1569.84 L478.22 1569.26 L481.71 1568.67 L485.24 1568.09 L488.83 1567.51 L492.47 1566.93 L496.16 1566.35 L499.9 1565.77 L503.69 1565.2 L507.54 1564.63 L511.44 1564.06 L515.4 1563.49 L519.41 1562.93 L523.48 1562.37 L527.61 1561.8 L531.8 1561.25 L536.04 1560.69 L540.35 1560.13 L544.71 1559.58 L549.14 1559.03 L553.63 1558.48 L558.18 1557.94 L562.79 1557.39 L567.48 1556.85 L572.22 1556.31 L577.04 1555.78 L581.92 1555.24 L586.87 1554.71 L591.89 1554.18 L596.99 1553.65 L602.15 1553.12 L607.39 1552.6 L612.7 1552.07 L618.09 1551.55 L623.55 1551.04 L629.09 1550.52 L634.7 1550.01 L640.4 1549.49" fill="none" stroke="#c41a1a" stroke-width="1.6"/>
<path d="M232.46 1793.64 L232.48 1793.34 L232.5 1793.05 L232.53 1792.75 L232.55 1792.46 L232.57 1792.15 L232.59 1791.85 L232.61 1791.54 L232.64 1791.24 L232.66 1790.93 L232.68 1790.61 L232.71 1790.3 L232.73 1789.98 L232.76 1789.66 L232.78 1789.33 L232.81 1789.01 L232.83 1788.68 L232.86 1788.35 L232.88 1788.01 L232.91 1787.68 L232.94 1787.34 L232.97 1787 L232.99 1786.65 L233.02 1786.31 L233.05 1785.96 L233.08 1785.6 L233.11 1785.25 L233.14 1784.89 L233.17 1784.53 L233.2 1784.17 L233.23 1783.8 L233.26 1783.43 L233.29 1783.06 L233.33 1782.69 L233.36 1782.31 L233.39 1781.93 L233.43 1781.55 L233.46 1781.16 L233.5 1780.77 L233.53 1780.38 L233.57 1779.99 L233.61 1779.59 L233.64 1779.19 L233.68 1778.79 L233.72 1778.38 L233.76 1777.97 L233.8 1777.56 L233.83 1777.15 L233.88 1776.73 L233.92 1776.31 L233.96 1775.89 L234 1775.46 L234.04 1775.03 L234.08 1774.6 L234.13 1774.16 L234.17 1773.72 L234.22 1773.28 L234.26 1772.83 L234.31 1772.38 L234.36 1771.93 L234.4 1771.48 L234.45 1771.02 L234.5 1770.56 L234.55 1770.1 L234.6 1769.63 L234.65 1769.16 L234.7 1768.69 L234.76 1768.21 L234.81 1767.73 L234.86 1767.25 L234.92 1766.76 L234.98 1766.27 L235.03 1765.78 L235.09 1765.28 L235.15 1764.78 L235.21 1764.28 L235.27 1763.77 L235.33 1763.26 L235.39 1762.75 L235.45 1762.24 L235.51 1761.72 L235.58 1761.2 L235.64 1760.67 L235.71 1760.14 L235.77 1759.61 L235.84 1759.07 L235.91 1758.53 L235.98 1757.99 L236.05 1757.45 L236.12 1756.9 L236.2 1756.35 L236.27 1755.79 L236.34 1755.23 L236.42 1754.67 L236.5 1754.1 L236.57 1753.53 L236.65 1752.96 L236.73 1752.39 L236.81 1751.81 L236.9 1751.23 L236.98 1750.64 L237.07 1750.05 L237.15 1749.46 L237.24 1748.86 L237.33 1748.26 L237.42 1747.66 L237.51 1747.06 L237.6 1746.45 L237.69 1745.83 L237.79 1745.22 L237.89 1744.6 L237.98 1743.98 L238.08 1743.35 L238.18 1742.72 L238.28 1742.09 L238.39 1741.45 L238.49 1740.81 L238.6 1740.17 L238.71 1739.52 L238.82 1738.87 L238.93 1738.22 L239.04 1737.57 L239.15 1736.91 L239.27 1736.24 L239.39 1735.58 L239.51 1734.91 L239.63 1734.24 L239.75 1733.56 L239.87 1732.88 L240 1732.2 L240.13 1731.51 L240.26 1730.83 L240.39 1730.13 L240.52 1729.44 L240.66 1728.74 L240.79 1728.04 L240.93 1727.34 L241.07 1726.63 L241.22 1725.92 L241.36 1725.2 L241.51 1724.49 L241.66 1723.77 L241.81 1723.04 L241.96 1722.32 L242.12 1721.59 L242.27 1720.86 L242.43 1720.12 L242.6 1719.38 L242.76 1718.64 L242.93 1717.9 L243.1 1717.15 L243.27 1716.4 L243.44 1715.65 L243.62 1714.89 L243.8 1714.13 L243.98 1713.37 L244.16 1712.61 L244.35 1711.84 L244.54 1711.07 L244.73 1710.3 L244.93 1709.52 L245.12 1708.75 L245.32 1707.97 L245.53 1707.18 L245.73 1706.4 L245.94 1705.61 L246.16 1704.82 L246.37 1704.02 L246.59 1703.23 L246.81 1702.43 L247.03 1701.63 L247.26 1700.82 L247.49 1700.02 L247.73 1699.21 L247.96 1698.4 L248.2 1697.59 L248.45 1696.77 L248.7 1695.95 L248.95 1695.13 L249.2 1694.31 L249.46 1693.49 L249.72 1692.66 L249.99 1691.83 L250.26 1691 L250.53 1690.17 L250.81 1689.34 L251.09 1688.5 L251.37 1687.66 L251.66 1686.82 L251.95 1685.98 L252.25 1685.14 L252.55 1684.29 L252.86 1683.44 L253.17 1682.59 L253.48 1681.74 L253.8 1680.89 L254.13 1680.03 L254.45 1679.18 L254.79 1678.32 L255.12 1677.46 L255.47 1676.6 L255.81 1675.74 L256.17 1674.88 L256.52 1674.01 L256.88 1673.15 L257.25 1672.28 L257.62 1671.41 L258 1670.54 L258.38 1669.67 L258.77 1668.8 L259.17 1667.92 L259.57 1667.05 L259.97 1666.18 L260.38 1665.3 L260.8 1664.42 L261.22 1663.55 L261.65 1662.67 L262.09 1661.79 L262.53 1660.91 L262.97 1660.03 L263.43 1659.14 L263.89 1658.26 L264.35 1657.38 L264.83 1656.5 L265.31 1655.61 L265.79 1654.73 L266.29 1653.84 L266.79 1652.96 L267.3 1652.07 L267.81 1651.19 L268.33 1650.3 L268.86 1649.41 L269.4 1648.53 L269.95 1647.64 L270.5 1646.76 L271.06 1645.87 L271.63 1644.98 L272.2 1644.1 L272.79 1643.21 L273.38 1642.32 L273.98 1641.44 L274.59 1640.55 L275.21 1639.67 L275.84 1638.78 L276.47 1637.9 L277.12 1637.01 L277.77 1636.13 L278.44 1635.24 L279.11 1634.36 L279.79 1633.48 L280.48 1632.6 L281.19 1631.72 L281.9 1630.84 L282.62 1629.96 L283.35 1629.08 L284.09 1628.2 L284.85 1627.32 L285.61 1626.45 L286.39 1625.57 L287.17 1624.7 L287.97 1623.82 L288.78 1622.95 L289.6 1622.08 L290.43 1621.21 L291.27 1620.34 L292.13 1619.47 L292.99 1618.61 L293.87 1617.74 L294.77 1616.88 L295.67 1616.02 L296.59 1615.16 L297.52 1614.3 L298.46 1613.44 L299.42 1612.58 L300.39 1611.73 L301.37 1610.87 L302.37 1610.02 L303.38 1609.17 L304.41 1608.33 L305.45 1607.48 L306.51 1606.63 L307.58 1605.79 L308.67 1604.95 L309.77 1604.11 L310.89 1603.28 L312.02 1602.44 L313.17 1601.61 L314.33 1600.78 L315.52 1599.95 L316.72 1599.12 L317.93 1598.3 L319.16 1597.47 L320.42 1596.65 L321.68 1595.84 L322.97 1595.02 L324.28 1594.21 L325.6 1593.39 L326.94 1592.59 L328.3 1591.78 L329.68 1590.98 L331.08 1590.17 L332.5 1589.37 L333.94 1588.58 L335.4 1587.78 L336.88 1586.99 L338.39 1586.2 L339.91 1585.42 L341.45 1584.63 L343.02 1583.85 L344.61 1583.07 L346.22 1582.3 L347.86 1581.52 L349.51 1580.75 L351.2 1579.99 L352.9 1579.22 L354.63 1578.46 L356.38 1577.7 L358.16 1576.94 L359.97 1576.19 L361.8 1575.44 L363.65 1574.69 L365.53 1573.95 L367.44 1573.2 L369.38 1572.47 L371.34 1571.73 L373.33 1571 L375.35 1570.27 L377.4 1569.54 L379.48 1568.82 L381.58 1568.1 L383.72 1567.38 L385.89 1566.66 L388.08 1565.95 L390.31 1565.24 L392.57 1564.54 L394.86 1563.84 L397.19 1563.14 L399.55 1562.44 L401.94 1561.75 L404.36 1561.06 L406.82 1560.37 L409.32 1559.69 L411.85 1559.01 L414.41 1558.33 L417.01 1557.66 L419.65 1556.99 L422.33 1556.33 L425.04 1555.66 L427.8 1555 L430.59 1554.34 L433.42 1553.69 L436.29 1553.04 L439.2 1552.39 L442.16 1551.75 L445.15 1551.11 L448.19 1550.47 L451.27 1549.84 L454.4 1549.21 L457.57 1548.58 L460.78 1547.96 L464.04 1547.34 L467.35 1546.72 L470.7 1546.11 L474.1 1545.5 L477.55 1544.89 L481.05 1544.29 L484.59 1543.69 L488.19 1543.09 L491.84 1542.5 L495.54 1541.91 L499.29 1541.32 L503.1 1540.74 L506.96 1540.16 L510.88 1539.58 L514.85 1539.01 L518.87 1538.44 L522.96 1537.87 L527.1 1537.31 L531.3 1536.75 L535.56 1536.19 L539.88 1535.64 L544.26 1535.09 L548.71 1534.55 L553.21 1534 L557.78 1533.46 L562.42 1532.93 L567.12 1532.39 L571.89 1531.86 L576.73 1531.34 L581.63 1530.81 L586.61 1530.3 L591.65 1529.78 L596.77 1529.27 L601.96 1528.76 L607.22 1528.25 L612.56 1527.75 L617.97 1527.25 L623.46 1526.75 L629.03 1526.25 L634.67 1525.76 L640.4 1525.28" fill="none" stroke="#1a1ab4" stroke-width="1.6"/>
<path d="M236.93 1809.75 L233.46 1813.21 L228.56 1813.21 L225.1 1809.75 L225.1 1804.85 L228.56 1801.39 L233.46 1801.39 L236.93 1804.85Z" fill="none" stroke="#1a1ab4" stroke-width="1.9"/>
<rect x="230.31" y="1806.6" width="1.4" height="1.4" fill="#000"/>
<path d="M250.56 1662.67 L247.1 1666.14 L242.2 1666.14 L238.73 1662.67 L238.73 1657.78 L242.2 1654.31 L247.1 1654.31 L250.56 1657.78Z" fill="none" stroke="#1a1ab4" stroke-width="1.9"/>
<rect x="243.95" y="1659.52" width="1.4" height="1.4" fill="#000"/>
<path d="M373.38 1579.25 L369.92 1582.71 L365.02 1582.71 L361.55 1579.25 L361.55 1574.35 L365.02 1570.88 L369.92 1570.88 L373.38 1574.35Z" fill="none" stroke="#1a1ab4" stroke-width="1.9"/>
<rect x="366.77" y="1576.1" width="1.4" height="1.4" fill="#000"/>
<rect x="224.71" y="1816.1" width="12.6" height="12.6" fill="none" stroke="#c41a1a" stroke-width="1.9"/>
<rect x="230.31" y="1821.7" width="1.4" height="1.4" fill="#000"/>
<rect x="224.84" y="1805.68" width="12.6" height="12.6" fill="none" stroke="#c41a1a" stroke-width="1.9"/>
<rect x="230.44" y="1811.28" width="1.4" height="1.4" fill="#000"/>
<rect x="226.06" y="1742.03" width="12.6" height="12.6" fill="none" stroke="#c41a1a" stroke-width="1.9"/>
<rect x="231.66" y="1747.63" width="1.4" height="1.4" fill="#000"/>
<rect x="238.35" y="1692.76" width="12.6" height="12.6" fill="none" stroke="#c41a1a" stroke-width="1.9"/>
<rect x="243.95" y="1698.36" width="1.4" height="1.4" fill="#000"/>
<rect x="361.17" y="1620.12" width="12.6" height="12.6" fill="none" stroke="#c41a1a" stroke-width="1.9"/>
<rect x="366.77" y="1625.72" width="1.4" height="1.4" fill="#000"/>
<path d="M224.53 1830.74 L237.53 1830.74 L231.03 1817.93Z" fill="none" stroke="#1ed21e" stroke-width="1.9"/>
<rect x="230.33" y="1825.06" width="1.4" height="1.4" fill="#000"/>
<path d="M224.77 1804.85 L237.77 1804.85 L231.27 1792.04Z" fill="none" stroke="#1ed21e" stroke-width="1.9"/>
<rect x="230.57" y="1799.17" width="1.4" height="1.4" fill="#000"/>
<path d="M227.23 1682.58 L240.23 1682.58 L233.73 1669.78Z" fill="none" stroke="#1ed21e" stroke-width="1.9"/>
<rect x="233.03" y="1676.91" width="1.4" height="1.4" fill="#000"/>
<path d="M251.79 1552.41 L264.79 1552.41 L258.29 1539.6Z" fill="none" stroke="#1ed21e" stroke-width="1.9"/>
<rect x="257.59" y="1546.73" width="1.4" height="1.4" fill="#000"/>
<path d="M497.43 1534.43 L510.43 1534.43 L503.93 1521.62Z" fill="none" stroke="#1ed21e" stroke-width="1.9"/>
<rect x="503.23" y="1528.75" width="1.4" height="1.4" fill="#000"/>
<line x1="231" y1="1465.8" x2="231" y2="1826.8" stroke="#000" stroke-width="1.6"/>
<line x1="230.2" y1="1826" x2="641.2" y2="1826" stroke="#000" stroke-width="1.6"/>
<line x1="231" y1="1790.04" x2="235.8" y2="1790.04" stroke="#000" stroke-width="1.6"/>
<line x1="231" y1="1754.08" x2="235.8" y2="1754.08" stroke="#000" stroke-width="1.6"/>
<line x1="231" y1="1718.12" x2="235.8" y2="1718.12" stroke="#000" stroke-width="1.6"/>
<line x1="231" y1="1682.16" x2="235.8" y2="1682.16" stroke="#000" stroke-width="1.6"/>
<line x1="231" y1="1646.2" x2="235.8" y2="1646.2" stroke="#000" stroke-width="1.6"/>
<line x1="231" y1="1610.24" x2="235.8" y2="1610.24" stroke="#000" stroke-width="1.6"/>
<line x1="231" y1="1574.28" x2="235.8" y2="1574.28" stroke="#000" stroke-width="1.6"/>
<line x1="231" y1="1538.32" x2="235.8" y2="1538.32" stroke="#000" stroke-width="1.6"/>
<line x1="231" y1="1502.36" x2="235.8" y2="1502.36" stroke="#000" stroke-width="1.6"/>
<line x1="231" y1="1466.4" x2="235.8" y2="1466.4" stroke="#000" stroke-width="1.6"/>
<line x1="299.23" y1="1826" x2="299.23" y2="1821.2" stroke="#000" stroke-width="1.6"/>
<line x1="367.47" y1="1826" x2="367.47" y2="1821.2" stroke="#000" stroke-width="1.6"/>
<line x1="435.7" y1="1826" x2="435.7" y2="1821.2" stroke="#000" stroke-width="1.6"/>
<line x1="503.93" y1="1826" x2="503.93" y2="1821.2" stroke="#000" stroke-width="1.6"/>
<line x1="572.17" y1="1826" x2="572.17" y2="1821.2" stroke="#000" stroke-width="1.6"/>
<line x1="640.4" y1="1826" x2="640.4" y2="1821.2" stroke="#000" stroke-width="1.6"/>
<text x="222.5" y="1482.1" font-size="26" text-anchor="end">1</text>
<text x="222.3" y="1657.5" font-size="26" text-anchor="end">0.5</text>
<text x="225" y="1831.9" font-size="26" text-anchor="end">0</text>
<text x="235" y="1853.6" font-size="26" text-anchor="middle">0</text>
<text x="640" y="1855" font-size="26" text-anchor="middle">30</text>
<text x="136" y="1656.4" font-size="26" font-weight="bold" textLength="29.4" lengthAdjust="spacingAndGlyphs">Fa</text>
<text x="433.4" y="1859.5" font-size="25" text-anchor="middle" font-weight="bold" textLength="124" lengthAdjust="spacingAndGlyphs">Dose (<tspan font-weight="normal" font-family="'Liberation Serif', serif">μ</tspan>M)</text>
<text x="363.1" y="1739.8" font-size="26">(</text>
<text x="385.6" y="1739.8" font-size="26">)</text>
<path d="M384.21 1733.45 L380.75 1736.91 L375.85 1736.91 L372.39 1733.45 L372.39 1728.55 L375.85 1725.09 L380.75 1725.09 L384.21 1728.55Z" fill="none" stroke="#1a1ab4" stroke-width="1.9"/>
<rect x="377.6" y="1730.3" width="1.4" height="1.4" fill="#000"/>
<text x="397.8" y="1741.6" font-size="26" textLength="111.7" lengthAdjust="spacingAndGlyphs">AZD2014</text>
<text x="363.1" y="1771.7" font-size="26">(</text>
<text x="385.6" y="1771.7" font-size="26">)</text>
<rect x="372" y="1755.6" width="12.6" height="12.6" fill="none" stroke="#c41a1a" stroke-width="1.9"/>
<rect x="377.6" y="1761.2" width="1.4" height="1.4" fill="#000"/>
<text x="397.8" y="1773.5" font-size="26" textLength="110.5" lengthAdjust="spacingAndGlyphs">Dasatinib</text>
<text x="363.1" y="1803.6" font-size="26">(</text>
<text x="385.6" y="1803.6" font-size="26">)</text>
<path d="M372.4 1800.27 L385.4 1800.27 L378.9 1787.47Z" fill="none" stroke="#1ed21e" stroke-width="1.9"/>
<text x="397.8" y="1805.4" font-size="26" textLength="240.3" lengthAdjust="spacingAndGlyphs">AZD2014+Dasatinib</text>
<path d="M884.3 1225.5 C885 1227.17 887.02 1232.3 888.5 1235.5 C889.98 1238.7 891.62 1241.9 893.2 1244.7 C894.78 1247.5 896.3 1249.97 898 1252.3 C899.7 1254.63 901.65 1256.87 903.4 1258.7 C905.15 1260.53 906.8 1261.93 908.5 1263.3 C910.2 1264.67 911.35 1265.5 913.6 1266.9 C915.85 1268.3 919.02 1270.17 922 1271.7 C924.98 1273.23 928.25 1274.82 931.5 1276.1 C934.75 1277.38 938.1 1278.38 941.5 1279.4 C944.9 1280.42 948.32 1281.33 951.9 1282.2 C955.48 1283.07 959.17 1283.83 963 1284.6 C966.83 1285.37 970.9 1286.13 974.9 1286.8 C978.9 1287.47 982.75 1288.05 987 1288.6 C991.25 1289.15 996.07 1289.58 1000.4 1290.1 C1004.73 1290.62 1008.75 1291.18 1013 1291.7 C1017.25 1292.22 1021.65 1292.73 1025.9 1293.2 C1030.15 1293.67 1034.23 1294.08 1038.5 1294.5 C1042.77 1294.92 1047.25 1295.35 1051.5 1295.7 C1055.75 1296.05 1059.75 1296.3 1064 1296.6 C1068.25 1296.9 1072.67 1297.22 1077 1297.5 C1081.33 1297.78 1085.75 1298.03 1090 1298.3 C1094.25 1298.57 1098.33 1298.87 1102.5 1299.1 C1106.67 1299.33 1110.73 1299.5 1115 1299.7 C1119.27 1299.9 1123.77 1300.08 1128.1 1300.3 C1132.43 1300.52 1136.75 1300.78 1141 1301 C1145.25 1301.22 1149.43 1301.43 1153.6 1301.6 C1157.77 1301.77 1161.75 1301.87 1166 1302 C1170.25 1302.13 1174.77 1302.27 1179.1 1302.4 C1183.43 1302.53 1187.75 1302.68 1192 1302.8 C1196.25 1302.92 1200.43 1303.02 1204.6 1303.1 C1208.77 1303.18 1212.73 1303.25 1217 1303.3 C1221.27 1303.35 1225.87 1303.38 1230.2 1303.4 C1234.53 1303.42 1238.75 1303.45 1243 1303.4 C1247.25 1303.35 1252.1 1303.32 1255.7 1303.1 C1259.3 1302.88 1263.12 1302.27 1264.6 1302.1" fill="none" stroke="#1a1aa8" stroke-width="1.6"/>
<path d="M935.56 1103.23 L932.15 1106.64 L927.32 1106.64 L923.92 1103.23 L923.92 1098.41 L927.32 1095 L932.15 1095 L935.56 1098.41Z" fill="none" stroke="#1a1ab4" stroke-width="1.9"/>
<rect x="929.04" y="1100.12" width="1.4" height="1.4" fill="#000"/>
<path d="M1176.51 1223.21 L1173.1 1226.62 L1168.28 1226.62 L1164.87 1223.21 L1164.87 1218.39 L1168.28 1214.98 L1173.1 1214.98 L1176.51 1218.39Z" fill="none" stroke="#1a1ab4" stroke-width="1.9"/>
<rect x="1169.99" y="1220.1" width="1.4" height="1.4" fill="#000"/>
<path d="M1043.37 1306 L1039.96 1309.41 L1035.14 1309.41 L1031.73 1306 L1031.73 1301.18 L1035.14 1297.77 L1039.96 1297.77 L1043.37 1301.18Z" fill="none" stroke="#1a1ab4" stroke-width="1.9"/>
<rect x="1036.85" y="1302.89" width="1.4" height="1.4" fill="#000"/>
<path d="M1158.13 1318.68 L1154.72 1322.09 L1149.9 1322.09 L1146.49 1318.68 L1146.49 1313.86 L1149.9 1310.45 L1154.72 1310.45 L1158.13 1313.86Z" fill="none" stroke="#1a1ab4" stroke-width="1.9"/>
<rect x="1151.61" y="1315.57" width="1.4" height="1.4" fill="#000"/>
<path d="M1184.27 1313.54 L1180.86 1316.95 L1176.04 1316.95 L1172.63 1313.54 L1172.63 1308.72 L1176.04 1305.31 L1180.86 1305.31 L1184.27 1308.72Z" fill="none" stroke="#1a1ab4" stroke-width="1.9"/>
<rect x="1177.75" y="1310.43" width="1.4" height="1.4" fill="#000"/>
<line x1="864.8" y1="1145.9" x2="1273.2" y2="1145.9" stroke="#222" stroke-width="1.6" stroke-dasharray="1.6 0.9"/>
<line x1="864.8" y1="973.9" x2="864.8" y2="1318.1" stroke="#000" stroke-width="1.6"/>
<line x1="864" y1="1317.3" x2="1274" y2="1317.3" stroke="#000" stroke-width="1.6"/>
<line x1="864.8" y1="1231.6" x2="869.6" y2="1231.6" stroke="#000" stroke-width="1.6"/>
<line x1="864.8" y1="1060.2" x2="869.6" y2="1060.2" stroke="#000" stroke-width="1.6"/>
<line x1="864.8" y1="974.5" x2="869.6" y2="974.5" stroke="#000" stroke-width="1.6"/>
<line x1="905.64" y1="1317.3" x2="905.64" y2="1312.5" stroke="#000" stroke-width="1.6"/>
<line x1="946.48" y1="1317.3" x2="946.48" y2="1312.5" stroke="#000" stroke-width="1.6"/>
<line x1="987.32" y1="1317.3" x2="987.32" y2="1312.5" stroke="#000" stroke-width="1.6"/>
<line x1="1028.16" y1="1317.3" x2="1028.16" y2="1312.5" stroke="#000" stroke-width="1.6"/>
<line x1="1069" y1="1317.3" x2="1069" y2="1312.5" stroke="#000" stroke-width="1.6"/>
<line x1="1109.84" y1="1317.3" x2="1109.84" y2="1312.5" stroke="#000" stroke-width="1.6"/>
<line x1="1150.68" y1="1317.3" x2="1150.68" y2="1312.5" stroke="#000" stroke-width="1.6"/>
<line x1="1191.52" y1="1317.3" x2="1191.52" y2="1312.5" stroke="#000" stroke-width="1.6"/>
<line x1="1232.36" y1="1317.3" x2="1232.36" y2="1312.5" stroke="#000" stroke-width="1.6"/>
<line x1="1273.2" y1="1317.3" x2="1273.2" y2="1312.5" stroke="#000" stroke-width="1.6"/>
<text x="859.6" y="987.1" font-size="25.5" text-anchor="end">2</text>
<text x="858" y="1321.1" font-size="25.5" text-anchor="end">0</text>
<text x="820" y="1131.7" font-size="25.5" font-weight="bold" textLength="25.2" lengthAdjust="spacingAndGlyphs">CI</text>
<text x="867.6" y="1343.1" font-size="25.5" text-anchor="middle">0</text>
<text x="1067.2" y="1343.1" font-size="25.5" text-anchor="middle">0.5</text>
<text x="1269.6" y="1343.1" font-size="25.5" text-anchor="middle">1</text>
<text x="1067.9" y="1374.6" font-size="26" text-anchor="middle" font-weight="bold" textLength="29" lengthAdjust="spacingAndGlyphs">Fa</text>
<text x="946" y="989.3" font-size="26" textLength="241.1" lengthAdjust="spacingAndGlyphs">AZD2014+Dasatinib</text>
<text x="878.6" y="1067.5" font-size="26" font-weight="bold" textLength="154.1" lengthAdjust="spacingAndGlyphs">Antagonism</text>
<text x="879" y="1185.4" font-size="26" font-weight="bold" textLength="136" lengthAdjust="spacingAndGlyphs">Synergism</text>
<path d="M882.1 1721.8 C882.92 1723.08 885.18 1727.05 887 1729.5 C888.82 1731.95 890.83 1734.32 893 1736.5 C895.17 1738.68 896.75 1740.28 900 1742.6 C903.25 1744.92 908.33 1748.1 912.5 1750.4 C916.67 1752.7 920.92 1754.67 925 1756.4 C929.08 1758.13 932.92 1759.33 937 1760.8 C941.08 1762.27 944.33 1763.8 949.5 1765.2 C954.67 1766.6 961.82 1767.97 968 1769.2 C974.18 1770.43 979.6 1771.4 986.6 1772.6 C993.6 1773.8 1001.93 1775.27 1010 1776.4 C1018.07 1777.53 1026.53 1778.48 1035 1779.4 C1043.47 1780.32 1052.47 1781.08 1060.8 1781.9 C1069.13 1782.72 1076.8 1783.48 1085 1784.3 C1093.2 1785.12 1101.68 1785.97 1110 1786.8 C1118.32 1787.63 1126.57 1788.5 1134.9 1789.3 C1143.23 1790.1 1151.65 1790.85 1160 1791.6 C1168.35 1792.35 1176.82 1793.07 1185 1793.8 C1193.18 1794.53 1201.6 1795.2 1209.1 1796 C1216.6 1796.8 1223.18 1797.7 1230 1798.6 C1236.82 1799.5 1244.52 1800.6 1250 1801.4 C1255.48 1802.2 1260.75 1803.07 1262.9 1803.4" fill="none" stroke="#1a1aa8" stroke-width="1.6"/>
<path d="M900.76 1757.67 L897.35 1761.08 L892.53 1761.08 L889.12 1757.67 L889.12 1752.85 L892.53 1749.44 L897.35 1749.44 L900.76 1752.85Z" fill="none" stroke="#1a1ab4" stroke-width="1.9"/>
<rect x="894.24" y="1754.56" width="1.4" height="1.4" fill="#000"/>
<path d="M1042.51 1809.53 L1039.1 1812.94 L1034.28 1812.94 L1030.87 1809.53 L1030.87 1804.71 L1034.28 1801.3 L1039.1 1801.3 L1042.51 1804.71Z" fill="none" stroke="#1a1ab4" stroke-width="1.9"/>
<rect x="1035.99" y="1806.42" width="1.4" height="1.4" fill="#000"/>
<path d="M1187.12 1813.29 L1183.71 1816.7 L1178.89 1816.7 L1175.48 1813.29 L1175.48 1808.47 L1178.89 1805.06 L1183.71 1805.06 L1187.12 1808.47Z" fill="none" stroke="#1a1ab4" stroke-width="1.9"/>
<rect x="1180.6" y="1810.18" width="1.4" height="1.4" fill="#000"/>
<path d="M1207.54 1737.65 L1204.13 1741.06 L1199.31 1741.06 L1195.9 1737.65 L1195.9 1732.82 L1199.31 1729.41 L1204.13 1729.41 L1207.54 1732.82Z" fill="none" stroke="#1a1ab4" stroke-width="1.9"/>
<rect x="1201.02" y="1734.53" width="1.4" height="1.4" fill="#000"/>
<line x1="864.3" y1="1655.65" x2="1272.8" y2="1655.65" stroke="#222" stroke-width="1.6" stroke-dasharray="1.6 0.9"/>
<line x1="864.3" y1="1483.9" x2="864.3" y2="1827.6" stroke="#000" stroke-width="1.6"/>
<line x1="863.5" y1="1826.8" x2="1273.6" y2="1826.8" stroke="#000" stroke-width="1.6"/>
<line x1="864.3" y1="1741.22" x2="869.1" y2="1741.22" stroke="#000" stroke-width="1.6"/>
<line x1="864.3" y1="1570.08" x2="869.1" y2="1570.08" stroke="#000" stroke-width="1.6"/>
<line x1="864.3" y1="1484.5" x2="869.1" y2="1484.5" stroke="#000" stroke-width="1.6"/>
<line x1="905.15" y1="1826.8" x2="905.15" y2="1822" stroke="#000" stroke-width="1.6"/>
<line x1="946" y1="1826.8" x2="946" y2="1822" stroke="#000" stroke-width="1.6"/>
<line x1="986.85" y1="1826.8" x2="986.85" y2="1822" stroke="#000" stroke-width="1.6"/>
<line x1="1027.7" y1="1826.8" x2="1027.7" y2="1822" stroke="#000" stroke-width="1.6"/>
<line x1="1068.55" y1="1826.8" x2="1068.55" y2="1822" stroke="#000" stroke-width="1.6"/>
<line x1="1109.4" y1="1826.8" x2="1109.4" y2="1822" stroke="#000" stroke-width="1.6"/>
<line x1="1150.25" y1="1826.8" x2="1150.25" y2="1822" stroke="#000" stroke-width="1.6"/>
<line x1="1191.1" y1="1826.8" x2="1191.1" y2="1822" stroke="#000" stroke-width="1.6"/>
<line x1="1231.95" y1="1826.8" x2="1231.95" y2="1822" stroke="#000" stroke-width="1.6"/>
<line x1="1272.8" y1="1826.8" x2="1272.8" y2="1822" stroke="#000" stroke-width="1.6"/>
<text x="859.6" y="1497.1" font-size="25.5" text-anchor="end">2</text>
<text x="858" y="1830.6" font-size="25.5" text-anchor="end">0</text>
<text x="820" y="1641.45" font-size="25.5" font-weight="bold" textLength="25.2" lengthAdjust="spacingAndGlyphs">CI</text>
<text x="867.6" y="1852.6" font-size="25.5" text-anchor="middle">0</text>
<text x="1067.2" y="1852.6" font-size="25.5" text-anchor="middle">0.5</text>
<text x="1269.6" y="1852.6" font-size="25.5" text-anchor="middle">1</text>
<text x="1067.9" y="1884.1" font-size="26" text-anchor="middle" font-weight="bold" textLength="29" lengthAdjust="spacingAndGlyphs">Fa</text>
<text x="946" y="1499.3" font-size="26" textLength="241.1" lengthAdjust="spacingAndGlyphs">AZD2014+Dasatinib</text>
<text x="878.6" y="1577.25" font-size="26" font-weight="bold" textLength="154.1" lengthAdjust="spacingAndGlyphs">Antagonism</text>
<text x="879" y="1695.15" font-size="26" font-weight="bold" textLength="136" lengthAdjust="spacingAndGlyphs">Synergism</text>
</svg>
</body></html>
